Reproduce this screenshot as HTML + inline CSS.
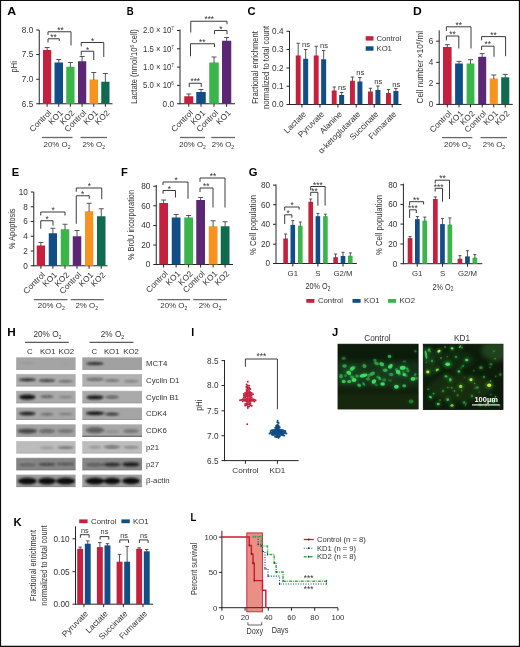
<!DOCTYPE html>
<html><head><meta charset="utf-8"><title>Figure</title>
<style>
html,body{margin:0;padding:0;background:#fff;}
body{width:520px;height:647px;overflow:hidden;}
svg{display:block;font-family:"Liberation Sans",sans-serif;}
</style></head><body>
<svg width="520" height="647" viewBox="0 0 520 647">
<defs>
<filter id="b1" x="-20%" y="-50%" width="140%" height="200%"><feGaussianBlur stdDeviation="1.0"/></filter>
<filter id="b2" x="-20%" y="-50%" width="140%" height="200%"><feGaussianBlur stdDeviation="1.4"/></filter>
<filter id="b3" x="-50%" y="-50%" width="200%" height="200%"><feGaussianBlur stdDeviation="0.7"/></filter>
<filter id="b4" x="-50%" y="-50%" width="200%" height="200%"><feGaussianBlur stdDeviation="2.5"/></filter>
<filter id="b5" x="-50%" y="-50%" width="200%" height="200%"><feGaussianBlur stdDeviation="5"/></filter>
</defs>
<rect x="0" y="0" width="520" height="647" fill="#ffffff"/>

<text transform="translate(7.30,15.20) scale(1.1,1)" font-size="11.2" text-anchor="start" fill="#000" font-weight="bold" >A</text>
<line x1="39.25" y1="30.00" x2="39.25" y2="104.25" stroke="#262626" stroke-width="1.0" />
<line x1="36.25" y1="30.00" x2="39.25" y2="30.00" stroke="#262626" stroke-width="1.0" />
<text transform="translate(33.25,32.95) " font-size="8.2" text-anchor="end" fill="#333333" font-weight="normal" >8.0</text>
<line x1="36.25" y1="54.50" x2="39.25" y2="54.50" stroke="#262626" stroke-width="1.0" />
<text transform="translate(33.25,57.45) " font-size="8.2" text-anchor="end" fill="#333333" font-weight="normal" >7.5</text>
<line x1="36.25" y1="79.25" x2="39.25" y2="79.25" stroke="#262626" stroke-width="1.0" />
<text transform="translate(33.25,82.20) " font-size="8.2" text-anchor="end" fill="#333333" font-weight="normal" >7.0</text>
<line x1="36.25" y1="103.75" x2="39.25" y2="103.75" stroke="#262626" stroke-width="1.0" />
<text transform="translate(33.25,106.70) " font-size="8.2" text-anchor="end" fill="#333333" font-weight="normal" >6.5</text>
<line x1="38.85" y1="103.75" x2="112.50" y2="103.75" stroke="#262626" stroke-width="1.0" />
<rect x="43.00" y="50.00" width="8.25" height="53.75" fill="#c5203e" />
<line x1="47.12" y1="50.50" x2="47.12" y2="47.50" stroke="#444444" stroke-width="0.9" />
<line x1="44.62" y1="47.50" x2="49.62" y2="47.50" stroke="#444444" stroke-width="0.9" />
<line x1="47.12" y1="103.75" x2="47.12" y2="106.75" stroke="#262626" stroke-width="1.0" />
<text transform="translate(51.83,113.35) rotate(-45) scale(1.02,1)" font-size="8.2" text-anchor="end" fill="#333333" font-weight="normal" >Control</text>
<rect x="54.50" y="62.50" width="8.50" height="41.25" fill="#114d86" />
<line x1="58.75" y1="63.00" x2="58.75" y2="59.50" stroke="#444444" stroke-width="0.9" />
<line x1="56.25" y1="59.50" x2="61.25" y2="59.50" stroke="#444444" stroke-width="0.9" />
<line x1="58.75" y1="103.75" x2="58.75" y2="106.75" stroke="#262626" stroke-width="1.0" />
<text transform="translate(63.45,113.35) rotate(-45) scale(1.02,1)" font-size="8.2" text-anchor="end" fill="#333333" font-weight="normal" >KO1</text>
<rect x="66.25" y="66.75" width="8.25" height="37.00" fill="#3ab54a" />
<line x1="70.38" y1="67.25" x2="70.38" y2="62.50" stroke="#444444" stroke-width="0.9" />
<line x1="67.88" y1="62.50" x2="72.88" y2="62.50" stroke="#444444" stroke-width="0.9" />
<line x1="70.38" y1="103.75" x2="70.38" y2="106.75" stroke="#262626" stroke-width="1.0" />
<text transform="translate(75.08,113.35) rotate(-45) scale(1.02,1)" font-size="8.2" text-anchor="end" fill="#333333" font-weight="normal" >KO2</text>
<rect x="78.00" y="61.25" width="8.25" height="42.50" fill="#5b2673" />
<line x1="82.12" y1="61.75" x2="82.12" y2="56.50" stroke="#444444" stroke-width="0.9" />
<line x1="79.62" y1="56.50" x2="84.62" y2="56.50" stroke="#444444" stroke-width="0.9" />
<line x1="82.12" y1="103.75" x2="82.12" y2="106.75" stroke="#262626" stroke-width="1.0" />
<text transform="translate(86.83,113.35) rotate(-45) scale(1.02,1)" font-size="8.2" text-anchor="end" fill="#333333" font-weight="normal" >Control</text>
<rect x="89.50" y="79.50" width="8.50" height="24.25" fill="#f7931e" />
<line x1="93.75" y1="80.00" x2="93.75" y2="72.50" stroke="#444444" stroke-width="0.9" />
<line x1="91.25" y1="72.50" x2="96.25" y2="72.50" stroke="#444444" stroke-width="0.9" />
<line x1="93.75" y1="103.75" x2="93.75" y2="106.75" stroke="#262626" stroke-width="1.0" />
<text transform="translate(98.45,113.35) rotate(-45) scale(1.02,1)" font-size="8.2" text-anchor="end" fill="#333333" font-weight="normal" >KO1</text>
<rect x="101.25" y="81.75" width="8.25" height="22.00" fill="#0f6a50" />
<line x1="105.38" y1="82.25" x2="105.38" y2="73.50" stroke="#444444" stroke-width="0.9" />
<line x1="102.88" y1="73.50" x2="107.88" y2="73.50" stroke="#444444" stroke-width="0.9" />
<line x1="105.38" y1="103.75" x2="105.38" y2="106.75" stroke="#262626" stroke-width="1.0" />
<text transform="translate(110.08,113.35) rotate(-45) scale(1.02,1)" font-size="8.2" text-anchor="end" fill="#333333" font-weight="normal" >KO2</text>
<text transform="translate(16.90,66.80) rotate(-90) scale(0.85,1)" font-size="8.8" text-anchor="middle" fill="#333333" font-weight="normal" >pHi</text>
<path d="M48.00,42.50 V38.75 H59.25 V41.00" stroke="#262626" stroke-width="0.9" fill="none" />
<text transform="translate(53.60,40.00) " font-size="8.3" text-anchor="middle" fill="#333333" font-weight="normal" >**</text>
<path d="M48.00,35.00 V31.75 H71.00 V45.50" stroke="#262626" stroke-width="0.9" fill="none" />
<text transform="translate(60.50,33.00) " font-size="8.3" text-anchor="middle" fill="#333333" font-weight="normal" >**</text>
<path d="M81.25,55.50 V51.25 H93.75 V60.00" stroke="#262626" stroke-width="0.9" fill="none" />
<text transform="translate(87.50,52.50) " font-size="8.3" text-anchor="middle" fill="#333333" font-weight="normal" >*</text>
<path d="M81.25,46.25 V42.50 H103.75 V57.00" stroke="#262626" stroke-width="0.9" fill="none" />
<text transform="translate(92.50,43.70) " font-size="8.3" text-anchor="middle" fill="#333333" font-weight="normal" >*</text>
<line x1="42.00" y1="137.50" x2="72.50" y2="137.50" stroke="#686868" stroke-width="1.3" />
<line x1="80.50" y1="137.50" x2="107.00" y2="137.50" stroke="#686868" stroke-width="1.3" />
<text transform="translate(57.00,147.00) " font-size="7.9" text-anchor="middle" fill="#333333" font-weight="normal" >20% O<tspan font-size="5.14" dy="1.5">2</tspan></text>
<text transform="translate(93.75,147.00) " font-size="7.9" text-anchor="middle" fill="#333333" font-weight="normal" >2% O<tspan font-size="5.14" dy="1.5">2</tspan></text>
<text transform="translate(126.80,15.20) scale(0.85,1)" font-size="11.2" text-anchor="start" fill="#000" font-weight="bold" >B</text>
<line x1="180.00" y1="29.50" x2="180.00" y2="104.15" stroke="#262626" stroke-width="1.0" />
<line x1="177.00" y1="30.50" x2="180.00" y2="30.50" stroke="#262626" stroke-width="1.0" />
<text transform="translate(174.00,33.40) scale(0.95,1)" font-size="8.2" text-anchor="end" fill="#333333" font-weight="normal" >2.0 × 10<tspan font-size="5" dy="-3">7</tspan></text>
<line x1="177.00" y1="48.80" x2="180.00" y2="48.80" stroke="#262626" stroke-width="1.0" />
<text transform="translate(174.00,51.70) scale(0.95,1)" font-size="8.2" text-anchor="end" fill="#333333" font-weight="normal" >1.5 × 10<tspan font-size="5" dy="-3">7</tspan></text>
<line x1="177.00" y1="67.10" x2="180.00" y2="67.10" stroke="#262626" stroke-width="1.0" />
<text transform="translate(174.00,70.00) scale(0.95,1)" font-size="8.2" text-anchor="end" fill="#333333" font-weight="normal" >1.0 × 10<tspan font-size="5" dy="-3">7</tspan></text>
<line x1="177.00" y1="85.40" x2="180.00" y2="85.40" stroke="#262626" stroke-width="1.0" />
<text transform="translate(174.00,88.30) scale(0.95,1)" font-size="8.2" text-anchor="end" fill="#333333" font-weight="normal" >5.0 × 10<tspan font-size="5" dy="-3">6</tspan></text>
<line x1="177.00" y1="103.75" x2="180.00" y2="103.75" stroke="#262626" stroke-width="1.0" />
<text transform="translate(174.00,106.65) " font-size="8.2" text-anchor="end" fill="#333333" font-weight="normal" >0.0</text>
<line x1="179.60" y1="103.75" x2="235.00" y2="103.75" stroke="#262626" stroke-width="1.0" />
<rect x="184.25" y="96.25" width="9.00" height="7.50" fill="#c5203e" />
<line x1="188.75" y1="96.75" x2="188.75" y2="94.00" stroke="#444444" stroke-width="0.9" />
<line x1="186.25" y1="94.00" x2="191.25" y2="94.00" stroke="#444444" stroke-width="0.9" />
<line x1="188.75" y1="103.75" x2="188.75" y2="106.75" stroke="#262626" stroke-width="1.0" />
<text transform="translate(193.45,113.35) rotate(-45) scale(1.02,1)" font-size="8.2" text-anchor="end" fill="#333333" font-weight="normal" >Control</text>
<rect x="196.25" y="92.00" width="9.50" height="11.75" fill="#114d86" />
<line x1="201.00" y1="92.50" x2="201.00" y2="89.50" stroke="#444444" stroke-width="0.9" />
<line x1="198.50" y1="89.50" x2="203.50" y2="89.50" stroke="#444444" stroke-width="0.9" />
<line x1="201.00" y1="103.75" x2="201.00" y2="106.75" stroke="#262626" stroke-width="1.0" />
<text transform="translate(205.70,113.35) rotate(-45) scale(1.02,1)" font-size="8.2" text-anchor="end" fill="#333333" font-weight="normal" >KO1</text>
<rect x="209.25" y="62.50" width="9.50" height="41.25" fill="#3ab54a" />
<line x1="214.00" y1="63.00" x2="214.00" y2="57.00" stroke="#444444" stroke-width="0.9" />
<line x1="211.50" y1="57.00" x2="216.50" y2="57.00" stroke="#444444" stroke-width="0.9" />
<line x1="214.00" y1="103.75" x2="214.00" y2="106.75" stroke="#262626" stroke-width="1.0" />
<text transform="translate(218.70,113.35) rotate(-45) scale(1.02,1)" font-size="8.2" text-anchor="end" fill="#333333" font-weight="normal" >Control</text>
<rect x="222.00" y="40.75" width="9.25" height="63.00" fill="#5b2673" />
<line x1="226.62" y1="41.25" x2="226.62" y2="37.50" stroke="#444444" stroke-width="0.9" />
<line x1="224.12" y1="37.50" x2="229.12" y2="37.50" stroke="#444444" stroke-width="0.9" />
<line x1="226.62" y1="103.75" x2="226.62" y2="106.75" stroke="#262626" stroke-width="1.0" />
<text transform="translate(231.32,113.35) rotate(-45) scale(1.02,1)" font-size="8.2" text-anchor="end" fill="#333333" font-weight="normal" >KO1</text>
<text transform="translate(136.50,66.50) rotate(-90) scale(0.84,1)" font-size="9" text-anchor="middle" fill="#333333" font-weight="normal" >Lactate (nmol/10<tspan font-size="5.2" dy="-3">6</tspan><tspan dy="3"> cell)</tspan></text>
<path d="M189.25,87.00 V83.25 H201.25 V87.00" stroke="#262626" stroke-width="0.9" fill="none" />
<text transform="translate(195.25,84.00) " font-size="8.3" text-anchor="middle" fill="#333333" font-weight="normal" >***</text>
<path d="M190.50,56.25 V43.75 H214.50 V47.00" stroke="#262626" stroke-width="0.9" fill="none" />
<text transform="translate(202.30,44.50) " font-size="8.3" text-anchor="middle" fill="#333333" font-weight="normal" >**</text>
<path d="M214.50,34.25 V30.50 H227.00 V34.25" stroke="#262626" stroke-width="0.9" fill="none" />
<text transform="translate(220.75,31.50) " font-size="8.3" text-anchor="middle" fill="#333333" font-weight="normal" >*</text>
<path d="M190.75,32.50 V21.25 H227.00 V24.25" stroke="#262626" stroke-width="0.9" fill="none" />
<text transform="translate(209.25,22.00) " font-size="8.3" text-anchor="middle" fill="#333333" font-weight="normal" >***</text>
<line x1="180.00" y1="137.50" x2="205.00" y2="137.50" stroke="#686868" stroke-width="1.3" />
<line x1="211.25" y1="137.50" x2="235.00" y2="137.50" stroke="#686868" stroke-width="1.3" />
<text transform="translate(192.50,147.00) " font-size="7.8" text-anchor="middle" fill="#333333" font-weight="normal" >20% O<tspan font-size="5.07" dy="1.5">2</tspan></text>
<text transform="translate(223.00,147.00) " font-size="7.8" text-anchor="middle" fill="#333333" font-weight="normal" >2% O<tspan font-size="5.07" dy="1.5">2</tspan></text>
<text transform="translate(247.50,15.20) scale(1.0,1)" font-size="11.2" text-anchor="start" fill="#000" font-weight="bold" >C</text>
<line x1="289.50" y1="31.00" x2="289.50" y2="105.00" stroke="#262626" stroke-width="1.0" />
<line x1="286.50" y1="31.25" x2="289.50" y2="31.25" stroke="#262626" stroke-width="1.0" />
<text transform="translate(283.50,34.20) " font-size="8.2" text-anchor="end" fill="#333333" font-weight="normal" >0.4</text>
<line x1="286.50" y1="49.50" x2="289.50" y2="49.50" stroke="#262626" stroke-width="1.0" />
<text transform="translate(283.50,52.45) " font-size="8.2" text-anchor="end" fill="#333333" font-weight="normal" >0.3</text>
<line x1="286.50" y1="68.00" x2="289.50" y2="68.00" stroke="#262626" stroke-width="1.0" />
<text transform="translate(283.50,70.95) " font-size="8.2" text-anchor="end" fill="#333333" font-weight="normal" >0.2</text>
<line x1="286.50" y1="86.25" x2="289.50" y2="86.25" stroke="#262626" stroke-width="1.0" />
<text transform="translate(283.50,89.20) " font-size="8.2" text-anchor="end" fill="#333333" font-weight="normal" >0.1</text>
<line x1="286.50" y1="104.50" x2="289.50" y2="104.50" stroke="#262626" stroke-width="1.0" />
<text transform="translate(283.50,107.45) " font-size="8.2" text-anchor="end" fill="#333333" font-weight="normal" >0.0</text>
<line x1="289.10" y1="104.50" x2="401.50" y2="104.50" stroke="#262626" stroke-width="1.0" />
<rect x="295.75" y="55.50" width="4.90" height="49.00" fill="#c5203e" />
<line x1="298.20" y1="56.00" x2="298.20" y2="43.25" stroke="#444444" stroke-width="0.9" />
<line x1="296.50" y1="43.25" x2="299.90" y2="43.25" stroke="#444444" stroke-width="0.9" />
<rect x="303.15" y="58.75" width="5.00" height="45.75" fill="#114d86" />
<line x1="305.65" y1="59.25" x2="305.65" y2="49.50" stroke="#444444" stroke-width="0.9" />
<line x1="303.95" y1="49.50" x2="307.35" y2="49.50" stroke="#444444" stroke-width="0.9" />
<line x1="301.95" y1="104.50" x2="301.95" y2="107.50" stroke="#262626" stroke-width="1.0" />
<text transform="translate(306.65,114.60) rotate(-45) scale(1.02,1)" font-size="8.2" text-anchor="end" fill="#333333" font-weight="normal" >Lactate</text>
<text transform="translate(305.95,47.00) " font-size="7.6" text-anchor="middle" fill="#333333" font-weight="normal" >ns</text>
<rect x="313.75" y="55.50" width="4.90" height="49.00" fill="#c5203e" />
<line x1="316.20" y1="56.00" x2="316.20" y2="46.25" stroke="#444444" stroke-width="0.9" />
<line x1="314.50" y1="46.25" x2="317.90" y2="46.25" stroke="#444444" stroke-width="0.9" />
<rect x="321.15" y="59.25" width="5.00" height="45.25" fill="#114d86" />
<line x1="323.65" y1="59.75" x2="323.65" y2="50.50" stroke="#444444" stroke-width="0.9" />
<line x1="321.95" y1="50.50" x2="325.35" y2="50.50" stroke="#444444" stroke-width="0.9" />
<line x1="319.95" y1="104.50" x2="319.95" y2="107.50" stroke="#262626" stroke-width="1.0" />
<text transform="translate(324.65,114.60) rotate(-45) scale(1.02,1)" font-size="8.2" text-anchor="end" fill="#333333" font-weight="normal" >Pyruvate</text>
<text transform="translate(323.95,48.00) " font-size="7.6" text-anchor="middle" fill="#333333" font-weight="normal" >ns</text>
<rect x="331.75" y="90.50" width="4.90" height="14.00" fill="#c5203e" />
<line x1="334.20" y1="91.00" x2="334.20" y2="87.00" stroke="#444444" stroke-width="0.9" />
<line x1="332.50" y1="87.00" x2="335.90" y2="87.00" stroke="#444444" stroke-width="0.9" />
<rect x="339.15" y="95.00" width="5.00" height="9.50" fill="#114d86" />
<line x1="341.65" y1="95.50" x2="341.65" y2="92.50" stroke="#444444" stroke-width="0.9" />
<line x1="339.95" y1="92.50" x2="343.35" y2="92.50" stroke="#444444" stroke-width="0.9" />
<line x1="337.95" y1="104.50" x2="337.95" y2="107.50" stroke="#262626" stroke-width="1.0" />
<text transform="translate(342.65,114.60) rotate(-45) scale(1.02,1)" font-size="8.2" text-anchor="end" fill="#333333" font-weight="normal" >Alanine</text>
<text transform="translate(341.95,90.00) " font-size="7.6" text-anchor="middle" fill="#333333" font-weight="normal" >ns</text>
<rect x="350.00" y="80.75" width="4.90" height="23.75" fill="#c5203e" />
<line x1="352.45" y1="81.25" x2="352.45" y2="77.00" stroke="#444444" stroke-width="0.9" />
<line x1="350.75" y1="77.00" x2="354.15" y2="77.00" stroke="#444444" stroke-width="0.9" />
<rect x="357.40" y="81.50" width="5.00" height="23.00" fill="#114d86" />
<line x1="359.90" y1="82.00" x2="359.90" y2="77.50" stroke="#444444" stroke-width="0.9" />
<line x1="358.20" y1="77.50" x2="361.60" y2="77.50" stroke="#444444" stroke-width="0.9" />
<line x1="356.20" y1="104.50" x2="356.20" y2="107.50" stroke="#262626" stroke-width="1.0" />
<text transform="translate(360.90,114.60) rotate(-45) scale(1.02,1)" font-size="8.2" text-anchor="end" fill="#333333" font-weight="normal" >α-ketoglutarate</text>
<text transform="translate(360.20,75.00) " font-size="7.6" text-anchor="middle" fill="#333333" font-weight="normal" >ns</text>
<rect x="368.00" y="91.50" width="4.90" height="13.00" fill="#c5203e" />
<line x1="370.45" y1="92.00" x2="370.45" y2="88.25" stroke="#444444" stroke-width="0.9" />
<line x1="368.75" y1="88.25" x2="372.15" y2="88.25" stroke="#444444" stroke-width="0.9" />
<rect x="375.40" y="90.00" width="5.00" height="14.50" fill="#114d86" />
<line x1="377.90" y1="90.50" x2="377.90" y2="86.00" stroke="#444444" stroke-width="0.9" />
<line x1="376.20" y1="86.00" x2="379.60" y2="86.00" stroke="#444444" stroke-width="0.9" />
<line x1="374.20" y1="104.50" x2="374.20" y2="107.50" stroke="#262626" stroke-width="1.0" />
<text transform="translate(378.90,114.60) rotate(-45) scale(1.02,1)" font-size="8.2" text-anchor="end" fill="#333333" font-weight="normal" >Succinate</text>
<text transform="translate(378.20,84.40) " font-size="7.6" text-anchor="middle" fill="#333333" font-weight="normal" >ns</text>
<rect x="386.00" y="93.00" width="4.90" height="11.50" fill="#c5203e" />
<line x1="388.45" y1="93.50" x2="388.45" y2="89.50" stroke="#444444" stroke-width="0.9" />
<line x1="386.75" y1="89.50" x2="390.15" y2="89.50" stroke="#444444" stroke-width="0.9" />
<rect x="393.40" y="91.00" width="5.00" height="13.50" fill="#114d86" />
<line x1="395.90" y1="91.50" x2="395.90" y2="88.50" stroke="#444444" stroke-width="0.9" />
<line x1="394.20" y1="88.50" x2="397.60" y2="88.50" stroke="#444444" stroke-width="0.9" />
<line x1="392.20" y1="104.50" x2="392.20" y2="107.50" stroke="#262626" stroke-width="1.0" />
<text transform="translate(396.90,114.60) rotate(-45) scale(1.02,1)" font-size="8.2" text-anchor="end" fill="#333333" font-weight="normal" >Fumarate</text>
<text transform="translate(396.20,86.90) " font-size="7.6" text-anchor="middle" fill="#333333" font-weight="normal" >ns</text>
<text transform="translate(257.70,67.50) rotate(-90) scale(0.82,1)" font-size="9.2" text-anchor="middle" fill="#333333" font-weight="normal" >Fractional enrichment</text>
<text transform="translate(268.80,67.50) rotate(-90) scale(0.82,1)" font-size="9.3" text-anchor="middle" fill="#333333" font-weight="normal" >normalized to total count</text>
<rect x="365.70" y="36.20" width="7.80" height="4.40" fill="#c5203e" />
<text transform="translate(376.50,40.70) " font-size="7.7" text-anchor="start" fill="#333333" font-weight="normal" >Control</text>
<rect x="365.70" y="46.30" width="7.80" height="4.40" fill="#114d86" />
<text transform="translate(376.50,51.20) " font-size="7.7" text-anchor="start" fill="#333333" font-weight="normal" >KO1</text>
<text transform="translate(413.00,15.20) scale(1.08,1)" font-size="11.2" text-anchor="start" fill="#000" font-weight="bold" >D</text>
<line x1="439.20" y1="30.30" x2="439.20" y2="104.90" stroke="#262626" stroke-width="1.0" />
<line x1="436.20" y1="41.20" x2="439.20" y2="41.20" stroke="#262626" stroke-width="1.0" />
<text transform="translate(433.20,44.15) " font-size="8.2" text-anchor="end" fill="#333333" font-weight="normal" >6</text>
<line x1="436.20" y1="62.30" x2="439.20" y2="62.30" stroke="#262626" stroke-width="1.0" />
<text transform="translate(433.20,65.25) " font-size="8.2" text-anchor="end" fill="#333333" font-weight="normal" >4</text>
<line x1="436.20" y1="83.40" x2="439.20" y2="83.40" stroke="#262626" stroke-width="1.0" />
<text transform="translate(433.20,86.35) " font-size="8.2" text-anchor="end" fill="#333333" font-weight="normal" >2</text>
<line x1="436.20" y1="104.40" x2="439.20" y2="104.40" stroke="#262626" stroke-width="1.0" />
<text transform="translate(433.20,107.35) " font-size="8.2" text-anchor="end" fill="#333333" font-weight="normal" >0</text>
<line x1="438.80" y1="104.40" x2="512.80" y2="104.40" stroke="#262626" stroke-width="1.0" />
<rect x="443.00" y="47.00" width="8.60" height="57.40" fill="#c5203e" />
<line x1="447.30" y1="47.50" x2="447.30" y2="44.70" stroke="#444444" stroke-width="0.9" />
<line x1="444.80" y1="44.70" x2="449.80" y2="44.70" stroke="#444444" stroke-width="0.9" />
<line x1="447.30" y1="104.40" x2="447.30" y2="107.40" stroke="#262626" stroke-width="1.0" />
<text transform="translate(452.00,114.00) rotate(-45) scale(1.02,1)" font-size="8.2" text-anchor="end" fill="#333333" font-weight="normal" >Control</text>
<rect x="455.10" y="63.50" width="7.80" height="40.90" fill="#114d86" />
<line x1="459.00" y1="64.00" x2="459.00" y2="61.40" stroke="#444444" stroke-width="0.9" />
<line x1="456.50" y1="61.40" x2="461.50" y2="61.40" stroke="#444444" stroke-width="0.9" />
<line x1="459.00" y1="104.40" x2="459.00" y2="107.40" stroke="#262626" stroke-width="1.0" />
<text transform="translate(463.70,114.00) rotate(-45) scale(1.02,1)" font-size="8.2" text-anchor="end" fill="#333333" font-weight="normal" >KO1</text>
<rect x="466.60" y="63.50" width="7.80" height="40.90" fill="#3ab54a" />
<line x1="470.50" y1="64.00" x2="470.50" y2="59.70" stroke="#444444" stroke-width="0.9" />
<line x1="468.00" y1="59.70" x2="473.00" y2="59.70" stroke="#444444" stroke-width="0.9" />
<line x1="470.50" y1="104.40" x2="470.50" y2="107.40" stroke="#262626" stroke-width="1.0" />
<text transform="translate(475.20,114.00) rotate(-45) scale(1.02,1)" font-size="8.2" text-anchor="end" fill="#333333" font-weight="normal" >KO2</text>
<rect x="478.20" y="56.80" width="8.00" height="47.60" fill="#5b2673" />
<line x1="482.20" y1="57.30" x2="482.20" y2="53.60" stroke="#444444" stroke-width="0.9" />
<line x1="479.70" y1="53.60" x2="484.70" y2="53.60" stroke="#444444" stroke-width="0.9" />
<line x1="482.20" y1="104.40" x2="482.20" y2="107.40" stroke="#262626" stroke-width="1.0" />
<text transform="translate(486.90,114.00) rotate(-45) scale(1.02,1)" font-size="8.2" text-anchor="end" fill="#333333" font-weight="normal" >Control</text>
<rect x="489.70" y="78.50" width="8.10" height="25.90" fill="#f7931e" />
<line x1="493.75" y1="79.00" x2="493.75" y2="75.00" stroke="#444444" stroke-width="0.9" />
<line x1="491.25" y1="75.00" x2="496.25" y2="75.00" stroke="#444444" stroke-width="0.9" />
<line x1="493.75" y1="104.40" x2="493.75" y2="107.40" stroke="#262626" stroke-width="1.0" />
<text transform="translate(498.45,114.00) rotate(-45) scale(1.02,1)" font-size="8.2" text-anchor="end" fill="#333333" font-weight="normal" >KO1</text>
<rect x="501.20" y="77.30" width="8.10" height="27.10" fill="#0f6a50" />
<line x1="505.25" y1="77.80" x2="505.25" y2="74.40" stroke="#444444" stroke-width="0.9" />
<line x1="502.75" y1="74.40" x2="507.75" y2="74.40" stroke="#444444" stroke-width="0.9" />
<line x1="505.25" y1="104.40" x2="505.25" y2="107.40" stroke="#262626" stroke-width="1.0" />
<text transform="translate(509.95,114.00) rotate(-45) scale(1.02,1)" font-size="8.2" text-anchor="end" fill="#333333" font-weight="normal" >KO2</text>
<text transform="translate(423.30,67.20) rotate(-90) scale(0.82,1)" font-size="9.8" text-anchor="middle" fill="#333333" font-weight="normal" >Cell number ×10<tspan font-size="5.6" dy="-3.2">6</tspan><tspan dy="3.2">/ml</tspan></text>
<path d="M446.40,40.40 V36.00 H458.80 V48.50" stroke="#262626" stroke-width="0.9" fill="none" />
<text transform="translate(452.60,37.20) " font-size="8.3" text-anchor="middle" fill="#333333" font-weight="normal" >**</text>
<path d="M446.40,30.90 V26.80 H471.00 V48.50" stroke="#262626" stroke-width="0.9" fill="none" />
<text transform="translate(458.70,28.00) " font-size="8.3" text-anchor="middle" fill="#333333" font-weight="normal" >**</text>
<path d="M481.60,50.00 V46.20 H494.00 V56.80" stroke="#262626" stroke-width="0.9" fill="none" />
<text transform="translate(487.80,47.40) " font-size="8.3" text-anchor="middle" fill="#333333" font-weight="normal" >**</text>
<path d="M481.60,40.40 V36.60 H505.60 V56.20" stroke="#262626" stroke-width="0.9" fill="none" />
<text transform="translate(493.60,37.80) " font-size="8.3" text-anchor="middle" fill="#333333" font-weight="normal" >**</text>
<line x1="442.00" y1="137.60" x2="472.30" y2="137.60" stroke="#686868" stroke-width="1.3" />
<line x1="480.50" y1="137.60" x2="507.00" y2="137.60" stroke="#686868" stroke-width="1.3" />
<text transform="translate(457.40,147.00) " font-size="7.8" text-anchor="middle" fill="#333333" font-weight="normal" >20% O<tspan font-size="5.07" dy="1.5">2</tspan></text>
<text transform="translate(494.00,147.00) " font-size="7.8" text-anchor="middle" fill="#333333" font-weight="normal" >2% O<tspan font-size="5.07" dy="1.5">2</tspan></text>
<text transform="translate(11.80,175.70) scale(1.0,1)" font-size="11.2" text-anchor="start" fill="#000" font-weight="bold" >E</text>
<line x1="33.75" y1="192.00" x2="33.75" y2="266.25" stroke="#262626" stroke-width="1.0" />
<line x1="30.75" y1="192.00" x2="33.75" y2="192.00" stroke="#262626" stroke-width="1.0" />
<text transform="translate(27.75,194.95) " font-size="8.2" text-anchor="end" fill="#333333" font-weight="normal" >10</text>
<line x1="30.75" y1="206.75" x2="33.75" y2="206.75" stroke="#262626" stroke-width="1.0" />
<text transform="translate(27.75,209.70) " font-size="8.2" text-anchor="end" fill="#333333" font-weight="normal" >8</text>
<line x1="30.75" y1="221.50" x2="33.75" y2="221.50" stroke="#262626" stroke-width="1.0" />
<text transform="translate(27.75,224.45) " font-size="8.2" text-anchor="end" fill="#333333" font-weight="normal" >6</text>
<line x1="30.75" y1="236.25" x2="33.75" y2="236.25" stroke="#262626" stroke-width="1.0" />
<text transform="translate(27.75,239.20) " font-size="8.2" text-anchor="end" fill="#333333" font-weight="normal" >4</text>
<line x1="30.75" y1="251.00" x2="33.75" y2="251.00" stroke="#262626" stroke-width="1.0" />
<text transform="translate(27.75,253.95) " font-size="8.2" text-anchor="end" fill="#333333" font-weight="normal" >2</text>
<line x1="30.75" y1="265.75" x2="33.75" y2="265.75" stroke="#262626" stroke-width="1.0" />
<text transform="translate(27.75,268.70) " font-size="8.2" text-anchor="end" fill="#333333" font-weight="normal" >0</text>
<line x1="33.35" y1="265.75" x2="107.50" y2="265.75" stroke="#262626" stroke-width="1.0" />
<rect x="36.75" y="245.50" width="8.25" height="20.25" fill="#c5203e" />
<line x1="40.88" y1="246.00" x2="40.88" y2="242.50" stroke="#444444" stroke-width="0.9" />
<line x1="38.38" y1="242.50" x2="43.38" y2="242.50" stroke="#444444" stroke-width="0.9" />
<line x1="40.88" y1="265.75" x2="40.88" y2="268.75" stroke="#262626" stroke-width="1.0" />
<text transform="translate(45.58,275.35) rotate(-45) scale(1.02,1)" font-size="8.2" text-anchor="end" fill="#333333" font-weight="normal" >Control</text>
<rect x="48.75" y="233.25" width="8.25" height="32.50" fill="#114d86" />
<line x1="52.88" y1="233.75" x2="52.88" y2="228.25" stroke="#444444" stroke-width="0.9" />
<line x1="50.38" y1="228.25" x2="55.38" y2="228.25" stroke="#444444" stroke-width="0.9" />
<line x1="52.88" y1="265.75" x2="52.88" y2="268.75" stroke="#262626" stroke-width="1.0" />
<text transform="translate(57.58,275.35) rotate(-45) scale(1.02,1)" font-size="8.2" text-anchor="end" fill="#333333" font-weight="normal" >KO1</text>
<rect x="60.75" y="229.25" width="8.50" height="36.50" fill="#3ab54a" />
<line x1="65.00" y1="229.75" x2="65.00" y2="224.25" stroke="#444444" stroke-width="0.9" />
<line x1="62.50" y1="224.25" x2="67.50" y2="224.25" stroke="#444444" stroke-width="0.9" />
<line x1="65.00" y1="265.75" x2="65.00" y2="268.75" stroke="#262626" stroke-width="1.0" />
<text transform="translate(69.70,275.35) rotate(-45) scale(1.02,1)" font-size="8.2" text-anchor="end" fill="#333333" font-weight="normal" >KO2</text>
<rect x="72.75" y="236.25" width="8.50" height="29.50" fill="#5b2673" />
<line x1="77.00" y1="236.75" x2="77.00" y2="230.50" stroke="#444444" stroke-width="0.9" />
<line x1="74.50" y1="230.50" x2="79.50" y2="230.50" stroke="#444444" stroke-width="0.9" />
<line x1="77.00" y1="265.75" x2="77.00" y2="268.75" stroke="#262626" stroke-width="1.0" />
<text transform="translate(81.70,275.35) rotate(-45) scale(1.02,1)" font-size="8.2" text-anchor="end" fill="#333333" font-weight="normal" >Control</text>
<rect x="85.00" y="211.25" width="8.25" height="54.50" fill="#f7931e" />
<line x1="89.12" y1="211.75" x2="89.12" y2="203.25" stroke="#444444" stroke-width="0.9" />
<line x1="86.62" y1="203.25" x2="91.62" y2="203.25" stroke="#444444" stroke-width="0.9" />
<line x1="89.12" y1="265.75" x2="89.12" y2="268.75" stroke="#262626" stroke-width="1.0" />
<text transform="translate(93.83,275.35) rotate(-45) scale(1.02,1)" font-size="8.2" text-anchor="end" fill="#333333" font-weight="normal" >KO1</text>
<rect x="97.00" y="216.25" width="8.50" height="49.50" fill="#0f6a50" />
<line x1="101.25" y1="216.75" x2="101.25" y2="208.75" stroke="#444444" stroke-width="0.9" />
<line x1="98.75" y1="208.75" x2="103.75" y2="208.75" stroke="#444444" stroke-width="0.9" />
<line x1="101.25" y1="265.75" x2="101.25" y2="268.75" stroke="#262626" stroke-width="1.0" />
<text transform="translate(105.95,275.35) rotate(-45) scale(1.02,1)" font-size="8.2" text-anchor="end" fill="#333333" font-weight="normal" >KO2</text>
<text transform="translate(14.50,228.75) rotate(-90) scale(0.82,1)" font-size="9" text-anchor="middle" fill="#333333" font-weight="normal" >% Apoptosis</text>
<path d="M40.75,228.75 V220.75 H53.00 V225.50" stroke="#262626" stroke-width="0.9" fill="none" />
<text transform="translate(47.00,222.00) " font-size="8.3" text-anchor="middle" fill="#333333" font-weight="normal" >*</text>
<path d="M40.75,215.50 V212.00 H65.00 V215.50" stroke="#262626" stroke-width="0.9" fill="none" />
<text transform="translate(53.00,213.20) " font-size="8.3" text-anchor="middle" fill="#333333" font-weight="normal" >*</text>
<path d="M76.25,223.75 V195.75 H89.25 V198.75" stroke="#262626" stroke-width="0.9" fill="none" />
<text transform="translate(82.50,197.00) " font-size="8.3" text-anchor="middle" fill="#333333" font-weight="normal" >*</text>
<path d="M76.25,191.75 V188.00 H101.75 V199.25" stroke="#262626" stroke-width="0.9" fill="none" />
<text transform="translate(89.25,189.20) " font-size="8.3" text-anchor="middle" fill="#333333" font-weight="normal" >*</text>
<line x1="33.75" y1="299.60" x2="67.50" y2="299.60" stroke="#686868" stroke-width="1.3" />
<line x1="70.75" y1="299.60" x2="103.75" y2="299.60" stroke="#686868" stroke-width="1.3" />
<text transform="translate(51.25,308.40) " font-size="7.9" text-anchor="middle" fill="#333333" font-weight="normal" >20% O<tspan font-size="5.14" dy="1.5">2</tspan></text>
<text transform="translate(86.75,308.40) " font-size="7.9" text-anchor="middle" fill="#333333" font-weight="normal" >2% O<tspan font-size="5.14" dy="1.5">2</tspan></text>
<text transform="translate(121.00,175.70) scale(1.0,1)" font-size="11.2" text-anchor="start" fill="#000" font-weight="bold" >F</text>
<line x1="156.25" y1="185.00" x2="156.25" y2="265.00" stroke="#262626" stroke-width="1.0" />
<line x1="153.25" y1="186.25" x2="156.25" y2="186.25" stroke="#262626" stroke-width="1.0" />
<text transform="translate(150.25,189.20) " font-size="8.2" text-anchor="end" fill="#333333" font-weight="normal" >80</text>
<line x1="153.25" y1="205.75" x2="156.25" y2="205.75" stroke="#262626" stroke-width="1.0" />
<text transform="translate(150.25,208.70) " font-size="8.2" text-anchor="end" fill="#333333" font-weight="normal" >60</text>
<line x1="153.25" y1="225.50" x2="156.25" y2="225.50" stroke="#262626" stroke-width="1.0" />
<text transform="translate(150.25,228.45) " font-size="8.2" text-anchor="end" fill="#333333" font-weight="normal" >40</text>
<line x1="153.25" y1="245.00" x2="156.25" y2="245.00" stroke="#262626" stroke-width="1.0" />
<text transform="translate(150.25,247.95) " font-size="8.2" text-anchor="end" fill="#333333" font-weight="normal" >20</text>
<line x1="153.25" y1="264.50" x2="156.25" y2="264.50" stroke="#262626" stroke-width="1.0" />
<text transform="translate(150.25,267.45) " font-size="8.2" text-anchor="end" fill="#333333" font-weight="normal" >0</text>
<line x1="155.85" y1="264.50" x2="233.00" y2="264.50" stroke="#262626" stroke-width="1.0" />
<rect x="159.25" y="203.00" width="8.75" height="61.50" fill="#c5203e" />
<line x1="163.62" y1="203.50" x2="163.62" y2="200.00" stroke="#444444" stroke-width="0.9" />
<line x1="161.12" y1="200.00" x2="166.12" y2="200.00" stroke="#444444" stroke-width="0.9" />
<line x1="163.62" y1="264.50" x2="163.62" y2="267.50" stroke="#262626" stroke-width="1.0" />
<text transform="translate(168.32,274.10) rotate(-45) scale(1.02,1)" font-size="8.2" text-anchor="end" fill="#333333" font-weight="normal" >Control</text>
<rect x="171.75" y="217.50" width="8.75" height="47.00" fill="#114d86" />
<line x1="176.12" y1="218.00" x2="176.12" y2="214.50" stroke="#444444" stroke-width="0.9" />
<line x1="173.62" y1="214.50" x2="178.62" y2="214.50" stroke="#444444" stroke-width="0.9" />
<line x1="176.12" y1="264.50" x2="176.12" y2="267.50" stroke="#262626" stroke-width="1.0" />
<text transform="translate(180.82,274.10) rotate(-45) scale(1.02,1)" font-size="8.2" text-anchor="end" fill="#333333" font-weight="normal" >KO1</text>
<rect x="184.25" y="217.50" width="8.75" height="47.00" fill="#3ab54a" />
<line x1="188.62" y1="218.00" x2="188.62" y2="215.50" stroke="#444444" stroke-width="0.9" />
<line x1="186.12" y1="215.50" x2="191.12" y2="215.50" stroke="#444444" stroke-width="0.9" />
<line x1="188.62" y1="264.50" x2="188.62" y2="267.50" stroke="#262626" stroke-width="1.0" />
<text transform="translate(193.32,274.10) rotate(-45) scale(1.02,1)" font-size="8.2" text-anchor="end" fill="#333333" font-weight="normal" >KO2</text>
<rect x="196.25" y="200.00" width="8.75" height="64.50" fill="#5b2673" />
<line x1="200.62" y1="200.50" x2="200.62" y2="197.50" stroke="#444444" stroke-width="0.9" />
<line x1="198.12" y1="197.50" x2="203.12" y2="197.50" stroke="#444444" stroke-width="0.9" />
<line x1="200.62" y1="264.50" x2="200.62" y2="267.50" stroke="#262626" stroke-width="1.0" />
<text transform="translate(205.32,274.10) rotate(-45) scale(1.02,1)" font-size="8.2" text-anchor="end" fill="#333333" font-weight="normal" >Control</text>
<rect x="208.75" y="226.25" width="8.75" height="38.25" fill="#f7931e" />
<line x1="213.12" y1="226.75" x2="213.12" y2="220.75" stroke="#444444" stroke-width="0.9" />
<line x1="210.62" y1="220.75" x2="215.62" y2="220.75" stroke="#444444" stroke-width="0.9" />
<line x1="213.12" y1="264.50" x2="213.12" y2="267.50" stroke="#262626" stroke-width="1.0" />
<text transform="translate(217.82,274.10) rotate(-45) scale(1.02,1)" font-size="8.2" text-anchor="end" fill="#333333" font-weight="normal" >KO1</text>
<rect x="220.75" y="226.25" width="8.75" height="38.25" fill="#0f6a50" />
<line x1="225.12" y1="226.75" x2="225.12" y2="221.75" stroke="#444444" stroke-width="0.9" />
<line x1="222.62" y1="221.75" x2="227.62" y2="221.75" stroke="#444444" stroke-width="0.9" />
<line x1="225.12" y1="264.50" x2="225.12" y2="267.50" stroke="#262626" stroke-width="1.0" />
<text transform="translate(229.82,274.10) rotate(-45) scale(1.02,1)" font-size="8.2" text-anchor="end" fill="#333333" font-weight="normal" >KO2</text>
<text transform="translate(134.00,225.00) rotate(-90) scale(0.82,1)" font-size="9" text-anchor="middle" fill="#333333" font-weight="normal" >% BrdU incorporation</text>
<path d="M163.00,193.75 V190.50 H175.50 V197.50" stroke="#262626" stroke-width="0.9" fill="none" />
<text transform="translate(169.25,191.70) " font-size="8.3" text-anchor="middle" fill="#333333" font-weight="normal" >*</text>
<path d="M163.00,185.00 V182.00 H188.00 V198.75" stroke="#262626" stroke-width="0.9" fill="none" />
<text transform="translate(176.00,183.20) " font-size="8.3" text-anchor="middle" fill="#333333" font-weight="normal" >*</text>
<path d="M200.00,192.00 V188.00 H213.00 V207.50" stroke="#262626" stroke-width="0.9" fill="none" />
<text transform="translate(206.25,189.20) " font-size="8.3" text-anchor="middle" fill="#333333" font-weight="normal" >**</text>
<path d="M200.00,181.75 V178.00 H225.00 V207.50" stroke="#262626" stroke-width="0.9" fill="none" />
<text transform="translate(213.00,179.20) " font-size="8.3" text-anchor="middle" fill="#333333" font-weight="normal" >**</text>
<line x1="157.50" y1="299.60" x2="190.00" y2="299.60" stroke="#686868" stroke-width="1.3" />
<line x1="193.25" y1="299.60" x2="227.00" y2="299.60" stroke="#686868" stroke-width="1.3" />
<text transform="translate(173.75,308.40) " font-size="7.9" text-anchor="middle" fill="#333333" font-weight="normal" >20% O<tspan font-size="5.14" dy="1.5">2</tspan></text>
<text transform="translate(210.00,308.40) " font-size="7.9" text-anchor="middle" fill="#333333" font-weight="normal" >2% O<tspan font-size="5.14" dy="1.5">2</tspan></text>
<text transform="translate(248.80,176.00) scale(1.0,1)" font-size="11.2" text-anchor="start" fill="#000" font-weight="bold" >G</text>
<line x1="276.00" y1="184.50" x2="276.00" y2="264.00" stroke="#262626" stroke-width="1.0" />
<line x1="273.00" y1="185.10" x2="276.00" y2="185.10" stroke="#262626" stroke-width="1.0" />
<text transform="translate(270.00,188.05) " font-size="8.2" text-anchor="end" fill="#333333" font-weight="normal" >80</text>
<line x1="273.00" y1="204.70" x2="276.00" y2="204.70" stroke="#262626" stroke-width="1.0" />
<text transform="translate(270.00,207.65) " font-size="8.2" text-anchor="end" fill="#333333" font-weight="normal" >60</text>
<line x1="273.00" y1="224.30" x2="276.00" y2="224.30" stroke="#262626" stroke-width="1.0" />
<text transform="translate(270.00,227.25) " font-size="8.2" text-anchor="end" fill="#333333" font-weight="normal" >40</text>
<line x1="273.00" y1="244.20" x2="276.00" y2="244.20" stroke="#262626" stroke-width="1.0" />
<text transform="translate(270.00,247.15) " font-size="8.2" text-anchor="end" fill="#333333" font-weight="normal" >20</text>
<line x1="273.00" y1="263.50" x2="276.00" y2="263.50" stroke="#262626" stroke-width="1.0" />
<text transform="translate(270.00,266.45) " font-size="8.2" text-anchor="end" fill="#333333" font-weight="normal" >0</text>
<line x1="275.60" y1="263.50" x2="356.80" y2="263.50" stroke="#262626" stroke-width="1.0" />
<rect x="283.30" y="238.50" width="4.60" height="25.00" fill="#c5203e" />
<line x1="285.60" y1="239.00" x2="285.60" y2="234.00" stroke="#444444" stroke-width="0.9" />
<line x1="284.10" y1="234.00" x2="287.10" y2="234.00" stroke="#444444" stroke-width="0.9" />
<rect x="290.50" y="224.90" width="4.60" height="38.60" fill="#114d86" />
<line x1="292.80" y1="225.40" x2="292.80" y2="220.60" stroke="#444444" stroke-width="0.9" />
<line x1="291.30" y1="220.60" x2="294.30" y2="220.60" stroke="#444444" stroke-width="0.9" />
<rect x="298.00" y="225.80" width="4.60" height="37.70" fill="#3ab54a" />
<line x1="300.30" y1="226.30" x2="300.30" y2="222.00" stroke="#444444" stroke-width="0.9" />
<line x1="298.80" y1="222.00" x2="301.80" y2="222.00" stroke="#444444" stroke-width="0.9" />
<rect x="308.40" y="201.80" width="4.60" height="61.70" fill="#c5203e" />
<line x1="310.70" y1="202.30" x2="310.70" y2="199.00" stroke="#444444" stroke-width="0.9" />
<line x1="309.20" y1="199.00" x2="312.20" y2="199.00" stroke="#444444" stroke-width="0.9" />
<rect x="315.60" y="216.20" width="4.60" height="47.30" fill="#114d86" />
<line x1="317.90" y1="216.70" x2="317.90" y2="213.40" stroke="#444444" stroke-width="0.9" />
<line x1="316.40" y1="213.40" x2="319.40" y2="213.40" stroke="#444444" stroke-width="0.9" />
<rect x="323.10" y="216.20" width="4.60" height="47.30" fill="#3ab54a" />
<line x1="325.40" y1="216.70" x2="325.40" y2="214.20" stroke="#444444" stroke-width="0.9" />
<line x1="323.90" y1="214.20" x2="326.90" y2="214.20" stroke="#444444" stroke-width="0.9" />
<rect x="333.30" y="257.20" width="4.60" height="6.30" fill="#c5203e" />
<line x1="335.60" y1="257.70" x2="335.60" y2="254.00" stroke="#444444" stroke-width="0.9" />
<line x1="334.10" y1="254.00" x2="337.10" y2="254.00" stroke="#444444" stroke-width="0.9" />
<rect x="340.70" y="256.00" width="4.60" height="7.50" fill="#114d86" />
<line x1="343.00" y1="256.50" x2="343.00" y2="252.30" stroke="#444444" stroke-width="0.9" />
<line x1="341.50" y1="252.30" x2="344.50" y2="252.30" stroke="#444444" stroke-width="0.9" />
<rect x="348.00" y="255.80" width="4.60" height="7.70" fill="#3ab54a" />
<line x1="350.30" y1="256.30" x2="350.30" y2="252.90" stroke="#444444" stroke-width="0.9" />
<line x1="348.80" y1="252.90" x2="351.80" y2="252.90" stroke="#444444" stroke-width="0.9" />
<line x1="292.80" y1="263.50" x2="292.80" y2="266.50" stroke="#262626" stroke-width="1.0" />
<text transform="translate(292.80,276.00) " font-size="7.8" text-anchor="middle" fill="#333333" font-weight="normal" >G1</text>
<line x1="317.90" y1="263.50" x2="317.90" y2="266.50" stroke="#262626" stroke-width="1.0" />
<text transform="translate(317.90,276.00) " font-size="7.8" text-anchor="middle" fill="#333333" font-weight="normal" >S</text>
<line x1="343.00" y1="263.50" x2="343.00" y2="266.50" stroke="#262626" stroke-width="1.0" />
<text transform="translate(343.00,276.00) " font-size="7.8" text-anchor="middle" fill="#333333" font-weight="normal" >G2/M</text>
<text transform="translate(318.00,289.30) scale(0.76,1)" font-size="9.6" text-anchor="middle" fill="#333333" font-weight="normal" >20% O<tspan font-size="6.4" dy="1.8">2</tspan></text>
<text transform="translate(256.20,225.00) rotate(-90) scale(0.82,1)" font-size="9.4" text-anchor="middle" fill="#333333" font-weight="normal" >% Cell population</text>
<path d="M284.70,224.00 V214.80 H291.90 V217.70" stroke="#262626" stroke-width="0.9" fill="none" />
<text transform="translate(288.20,216.00) " font-size="8.3" text-anchor="middle" fill="#333333" font-weight="normal" >*</text>
<path d="M284.70,210.50 V207.00 H299.10 V209.60" stroke="#262626" stroke-width="0.9" fill="none" />
<text transform="translate(292.00,208.20) " font-size="8.3" text-anchor="middle" fill="#333333" font-weight="normal" >*</text>
<path d="M310.70,196.00 V192.30 H317.90 V205.60" stroke="#262626" stroke-width="0.9" fill="none" />
<text transform="translate(314.40,193.50) " font-size="8.3" text-anchor="middle" fill="#333333" font-weight="normal" >**</text>
<path d="M310.70,190.30 V186.50 H325.10 V205.60" stroke="#262626" stroke-width="0.9" fill="none" />
<text transform="translate(317.90,187.70) " font-size="8.3" text-anchor="middle" fill="#333333" font-weight="normal" >***</text>
<rect x="306.30" y="299.00" width="8.10" height="3.80" fill="#c5203e" />
<text transform="translate(317.90,303.40) " font-size="7.8" text-anchor="start" fill="#333333" font-weight="normal" >Control</text>
<rect x="352.50" y="299.00" width="8.10" height="3.80" fill="#114d86" />
<text transform="translate(364.00,303.40) " font-size="7.8" text-anchor="start" fill="#333333" font-weight="normal" >KO1</text>
<rect x="388.00" y="299.00" width="8.10" height="3.80" fill="#3ab54a" />
<text transform="translate(399.40,303.40) " font-size="7.8" text-anchor="start" fill="#333333" font-weight="normal" >KO2</text>
<line x1="403.40" y1="183.70" x2="403.40" y2="264.20" stroke="#262626" stroke-width="1.0" />
<line x1="400.40" y1="184.80" x2="403.40" y2="184.80" stroke="#262626" stroke-width="1.0" />
<text transform="translate(397.40,187.75) " font-size="8.2" text-anchor="end" fill="#333333" font-weight="normal" >80</text>
<line x1="400.40" y1="204.40" x2="403.40" y2="204.40" stroke="#262626" stroke-width="1.0" />
<text transform="translate(397.40,207.35) " font-size="8.2" text-anchor="end" fill="#333333" font-weight="normal" >60</text>
<line x1="400.40" y1="224.10" x2="403.40" y2="224.10" stroke="#262626" stroke-width="1.0" />
<text transform="translate(397.40,227.05) " font-size="8.2" text-anchor="end" fill="#333333" font-weight="normal" >40</text>
<line x1="400.40" y1="244.00" x2="403.40" y2="244.00" stroke="#262626" stroke-width="1.0" />
<text transform="translate(397.40,246.95) " font-size="8.2" text-anchor="end" fill="#333333" font-weight="normal" >20</text>
<line x1="400.40" y1="263.70" x2="403.40" y2="263.70" stroke="#262626" stroke-width="1.0" />
<text transform="translate(397.40,266.65) " font-size="8.2" text-anchor="end" fill="#333333" font-weight="normal" >0</text>
<line x1="403.00" y1="263.70" x2="482.30" y2="263.70" stroke="#262626" stroke-width="1.0" />
<rect x="407.70" y="238.10" width="4.70" height="25.60" fill="#c5203e" />
<line x1="410.05" y1="238.60" x2="410.05" y2="236.50" stroke="#444444" stroke-width="0.9" />
<line x1="408.55" y1="236.50" x2="411.55" y2="236.50" stroke="#444444" stroke-width="0.9" />
<rect x="415.00" y="219.20" width="4.70" height="44.50" fill="#114d86" />
<line x1="417.35" y1="219.70" x2="417.35" y2="216.50" stroke="#444444" stroke-width="0.9" />
<line x1="415.85" y1="216.50" x2="418.85" y2="216.50" stroke="#444444" stroke-width="0.9" />
<rect x="422.40" y="220.60" width="4.70" height="43.10" fill="#3ab54a" />
<line x1="424.75" y1="221.10" x2="424.75" y2="217.10" stroke="#444444" stroke-width="0.9" />
<line x1="423.25" y1="217.10" x2="426.25" y2="217.10" stroke="#444444" stroke-width="0.9" />
<rect x="433.00" y="199.00" width="4.70" height="64.70" fill="#c5203e" />
<line x1="435.35" y1="199.50" x2="435.35" y2="196.90" stroke="#444444" stroke-width="0.9" />
<line x1="433.85" y1="196.90" x2="436.85" y2="196.90" stroke="#444444" stroke-width="0.9" />
<rect x="440.10" y="224.10" width="4.70" height="39.60" fill="#114d86" />
<line x1="442.45" y1="224.60" x2="442.45" y2="218.40" stroke="#444444" stroke-width="0.9" />
<line x1="440.95" y1="218.40" x2="443.95" y2="218.40" stroke="#444444" stroke-width="0.9" />
<rect x="447.50" y="224.60" width="4.70" height="39.10" fill="#3ab54a" />
<line x1="449.85" y1="225.10" x2="449.85" y2="217.90" stroke="#444444" stroke-width="0.9" />
<line x1="448.35" y1="217.90" x2="451.35" y2="217.90" stroke="#444444" stroke-width="0.9" />
<rect x="457.60" y="258.80" width="4.70" height="4.90" fill="#c5203e" />
<line x1="459.95" y1="259.30" x2="459.95" y2="255.60" stroke="#444444" stroke-width="0.9" />
<line x1="458.45" y1="255.60" x2="461.45" y2="255.60" stroke="#444444" stroke-width="0.9" />
<rect x="465.10" y="256.40" width="4.70" height="7.30" fill="#114d86" />
<line x1="467.45" y1="256.90" x2="467.45" y2="250.70" stroke="#444444" stroke-width="0.9" />
<line x1="465.95" y1="250.70" x2="468.95" y2="250.70" stroke="#444444" stroke-width="0.9" />
<rect x="472.50" y="257.70" width="4.70" height="6.00" fill="#3ab54a" />
<line x1="474.85" y1="258.20" x2="474.85" y2="254.50" stroke="#444444" stroke-width="0.9" />
<line x1="473.35" y1="254.50" x2="476.35" y2="254.50" stroke="#444444" stroke-width="0.9" />
<line x1="417.20" y1="263.70" x2="417.20" y2="266.70" stroke="#262626" stroke-width="1.0" />
<text transform="translate(417.20,276.20) " font-size="7.8" text-anchor="middle" fill="#333333" font-weight="normal" >G1</text>
<line x1="442.50" y1="263.70" x2="442.50" y2="266.70" stroke="#262626" stroke-width="1.0" />
<text transform="translate(442.50,276.20) " font-size="7.8" text-anchor="middle" fill="#333333" font-weight="normal" >S</text>
<line x1="467.50" y1="263.70" x2="467.50" y2="266.70" stroke="#262626" stroke-width="1.0" />
<text transform="translate(467.50,276.20) " font-size="7.8" text-anchor="middle" fill="#333333" font-weight="normal" >G2/M</text>
<text transform="translate(443.00,289.50) scale(0.76,1)" font-size="9.6" text-anchor="middle" fill="#333333" font-weight="normal" >2% O<tspan font-size="6.4" dy="1.8">2</tspan></text>
<text transform="translate(381.80,225.00) rotate(-90) scale(0.82,1)" font-size="9.4" text-anchor="middle" fill="#333333" font-weight="normal" >% Cell population</text>
<path d="M409.60,217.90 V209.80 H416.30 V213.00" stroke="#262626" stroke-width="0.9" fill="none" />
<text transform="translate(412.80,211.00) " font-size="8.3" text-anchor="middle" fill="#333333" font-weight="normal" >***</text>
<path d="M409.60,205.00 V201.70 H423.60 V204.40" stroke="#262626" stroke-width="0.9" fill="none" />
<text transform="translate(416.30,202.90) " font-size="8.3" text-anchor="middle" fill="#333333" font-weight="normal" >**</text>
<path d="M435.20,191.50 V188.30 H442.50 V201.70" stroke="#262626" stroke-width="0.9" fill="none" />
<text transform="translate(438.70,189.50) " font-size="8.3" text-anchor="middle" fill="#333333" font-weight="normal" >***</text>
<path d="M435.20,183.40 V180.20 H449.50 V199.00" stroke="#262626" stroke-width="0.9" fill="none" />
<text transform="translate(442.50,181.40) " font-size="8.3" text-anchor="middle" fill="#333333" font-weight="normal" >**</text>
<text transform="translate(7.20,335.80) scale(1.05,1)" font-size="11.2" text-anchor="start" fill="#000" font-weight="bold" >H</text>
<text transform="translate(47.50,337.20) " font-size="8.2" text-anchor="middle" fill="#333333" font-weight="normal" >20% O<tspan font-size="5.33" dy="1.5">2</tspan></text>
<text transform="translate(112.50,337.20) " font-size="8.2" text-anchor="middle" fill="#333333" font-weight="normal" >2% O<tspan font-size="5.33" dy="1.5">2</tspan></text>
<line x1="25.00" y1="342.30" x2="68.80" y2="342.30" stroke="#5a5a5a" stroke-width="1.3" />
<line x1="89.60" y1="342.30" x2="133.50" y2="342.30" stroke="#5a5a5a" stroke-width="1.3" />
<text transform="translate(29.80,353.80) " font-size="7.8" text-anchor="middle" fill="#333333" font-weight="normal" >C</text>
<text transform="translate(47.70,353.80) " font-size="7.8" text-anchor="middle" fill="#333333" font-weight="normal" >KO1</text>
<text transform="translate(66.30,353.80) " font-size="7.8" text-anchor="middle" fill="#333333" font-weight="normal" >KO2</text>
<text transform="translate(94.40,353.80) " font-size="7.8" text-anchor="middle" fill="#333333" font-weight="normal" >C</text>
<text transform="translate(111.70,353.80) " font-size="7.8" text-anchor="middle" fill="#333333" font-weight="normal" >KO1</text>
<text transform="translate(131.00,353.80) " font-size="7.8" text-anchor="middle" fill="#333333" font-weight="normal" >KO2</text>
<clipPath id="cl"><rect x="16.2" y="350" width="59.4" height="140"/></clipPath>
<clipPath id="cr"><rect x="82.3" y="350" width="59.7" height="140"/></clipPath>
<rect x="16.20" y="357.30" width="59.40" height="12.50" fill="#a4a4a4" />
<rect x="82.30" y="357.30" width="59.70" height="12.50" fill="#a1a1a1" />
<rect x="16.20" y="357.30" width="59.40" height="0.80" fill="#ffffff" opacity="0.15"/>
<rect x="82.30" y="357.30" width="59.70" height="0.80" fill="#ffffff" opacity="0.15"/>
<rect x="16.20" y="369.00" width="59.40" height="0.80" fill="#000" opacity="0.12"/>
<rect x="82.30" y="369.00" width="59.70" height="0.80" fill="#000" opacity="0.12"/>
<g clip-path="url(#cl)"><g filter="url(#b1)">
<ellipse cx="27.3" cy="363.05" rx="6.8" ry="0.8" fill="#111" opacity="0.12"/>
<ellipse cx="65.6" cy="364.05" rx="1.8" ry="0.6" fill="#111" opacity="0.15"/>
</g></g>
<g clip-path="url(#cr)"><g filter="url(#b1)">
<ellipse cx="95" cy="363.55" rx="8.8" ry="1.3" fill="#111" opacity="0.95"/>
</g></g>
<text transform="translate(146.00,366.10) " font-size="7.8" text-anchor="start" fill="#333333" font-weight="normal" >MCT4</text>
<rect x="16.20" y="374.00" width="59.40" height="12.50" fill="#adadad" />
<rect x="82.30" y="374.00" width="59.70" height="12.50" fill="#b1b1b1" />
<rect x="16.20" y="374.00" width="59.40" height="0.80" fill="#ffffff" opacity="0.15"/>
<rect x="82.30" y="374.00" width="59.70" height="0.80" fill="#ffffff" opacity="0.15"/>
<rect x="16.20" y="385.70" width="59.40" height="0.80" fill="#000" opacity="0.12"/>
<rect x="82.30" y="385.70" width="59.70" height="0.80" fill="#000" opacity="0.12"/>
<g clip-path="url(#cl)"><g filter="url(#b1)">
<ellipse cx="27.3" cy="379.75" rx="8.8" ry="1.5" fill="#111" opacity="0.85"/>
<ellipse cx="47" cy="380.55" rx="8.3" ry="1.4" fill="#111" opacity="0.75"/>
<ellipse cx="65.6" cy="381.25" rx="7.8" ry="1.2" fill="#111" opacity="0.4"/>
</g></g>
<g clip-path="url(#cr)"><g filter="url(#b1)">
<ellipse cx="95" cy="379.45" rx="8.8" ry="1.6" fill="#111" opacity="0.45"/>
<ellipse cx="112" cy="380.55" rx="7.8" ry="1.5" fill="#111" opacity="0.35"/>
<ellipse cx="131" cy="381.25" rx="7.8" ry="1.4" fill="#111" opacity="0.25"/>
</g></g>
<text transform="translate(146.00,382.80) " font-size="7.8" text-anchor="start" fill="#333333" font-weight="normal" >Cyclin D1</text>
<rect x="16.20" y="390.80" width="59.40" height="12.50" fill="#a9a9a9" />
<rect x="82.30" y="390.80" width="59.70" height="12.50" fill="#aaaaaa" />
<rect x="16.20" y="390.80" width="59.40" height="0.80" fill="#ffffff" opacity="0.15"/>
<rect x="82.30" y="390.80" width="59.70" height="0.80" fill="#ffffff" opacity="0.15"/>
<rect x="16.20" y="402.50" width="59.40" height="0.80" fill="#000" opacity="0.12"/>
<rect x="82.30" y="402.50" width="59.70" height="0.80" fill="#000" opacity="0.12"/>
<g clip-path="url(#cl)"><g filter="url(#b1)">
<ellipse cx="27.3" cy="397.05" rx="8.3" ry="2.6" fill="#111" opacity="0.95"/>
<ellipse cx="47" cy="396.55" rx="6.8" ry="1.3" fill="#111" opacity="0.5"/>
<ellipse cx="65.6" cy="397.05" rx="6.8" ry="1.0" fill="#111" opacity="0.28"/>
</g></g>
<g clip-path="url(#cr)"><g filter="url(#b1)">
<ellipse cx="95" cy="397.35" rx="8.8" ry="2.2" fill="#111" opacity="0.9"/>
<ellipse cx="112" cy="397.05" rx="6.8" ry="1.4" fill="#111" opacity="0.55"/>
</g></g>
<text transform="translate(146.00,399.60) " font-size="7.8" text-anchor="start" fill="#333333" font-weight="normal" >Cyclin B1</text>
<rect x="16.20" y="407.50" width="59.40" height="12.50" fill="#a6a6a6" />
<rect x="82.30" y="407.50" width="59.70" height="12.50" fill="#a5a5a5" />
<rect x="16.20" y="407.50" width="59.40" height="0.80" fill="#ffffff" opacity="0.15"/>
<rect x="82.30" y="407.50" width="59.70" height="0.80" fill="#ffffff" opacity="0.15"/>
<rect x="16.20" y="419.20" width="59.40" height="0.80" fill="#000" opacity="0.12"/>
<rect x="82.30" y="419.20" width="59.70" height="0.80" fill="#000" opacity="0.12"/>
<g clip-path="url(#cl)"><g filter="url(#b1)">
<ellipse cx="27.3" cy="413.45" rx="8.3" ry="1.8" fill="#111" opacity="0.9"/>
<ellipse cx="47" cy="414.25" rx="6.8" ry="1.2" fill="#111" opacity="0.4"/>
<ellipse cx="65.6" cy="414.05" rx="6.8" ry="1.0" fill="#111" opacity="0.3"/>
</g></g>
<g clip-path="url(#cr)"><g filter="url(#b1)">
<ellipse cx="95" cy="413.25" rx="9.3" ry="1.7" fill="#111" opacity="0.98"/>
<ellipse cx="112" cy="414.05" rx="7.3" ry="1.2" fill="#111" opacity="0.85"/>
</g></g>
<text transform="translate(146.00,416.30) " font-size="7.8" text-anchor="start" fill="#333333" font-weight="normal" >CDK4</text>
<rect x="16.20" y="424.30" width="59.40" height="12.50" fill="#a2a2a2" />
<rect x="82.30" y="424.30" width="59.70" height="12.50" fill="#a8a8a8" />
<rect x="16.20" y="424.30" width="59.40" height="0.80" fill="#ffffff" opacity="0.15"/>
<rect x="82.30" y="424.30" width="59.70" height="0.80" fill="#ffffff" opacity="0.15"/>
<rect x="16.20" y="436.00" width="59.40" height="0.80" fill="#000" opacity="0.12"/>
<rect x="82.30" y="436.00" width="59.70" height="0.80" fill="#000" opacity="0.12"/>
<g clip-path="url(#cl)"><g filter="url(#b1)">
<ellipse cx="27.3" cy="431.05" rx="9.8" ry="2.4" fill="#111" opacity="0.65"/>
<ellipse cx="47" cy="431.05" rx="8.3" ry="2.0" fill="#111" opacity="0.4"/>
<ellipse cx="65.6" cy="431.05" rx="8.3" ry="1.8" fill="#111" opacity="0.3"/>
</g></g>
<g clip-path="url(#cr)"><g filter="url(#b1)">
<ellipse cx="95" cy="430.25" rx="9.3" ry="3" fill="#111" opacity="0.5"/>
<ellipse cx="112" cy="431.55" rx="7.8" ry="1.6" fill="#111" opacity="0.15"/>
<ellipse cx="131" cy="431.05" rx="8.3" ry="2" fill="#111" opacity="0.3"/>
</g></g>
<text transform="translate(146.00,433.10) " font-size="7.8" text-anchor="start" fill="#333333" font-weight="normal" >CDK6</text>
<rect x="16.20" y="441.00" width="59.40" height="12.50" fill="#bcbcbc" />
<rect x="82.30" y="441.00" width="59.70" height="12.50" fill="#bdbdbd" />
<rect x="16.20" y="441.00" width="59.40" height="0.80" fill="#ffffff" opacity="0.15"/>
<rect x="82.30" y="441.00" width="59.70" height="0.80" fill="#ffffff" opacity="0.15"/>
<rect x="16.20" y="452.70" width="59.40" height="0.80" fill="#000" opacity="0.12"/>
<rect x="82.30" y="452.70" width="59.70" height="0.80" fill="#000" opacity="0.12"/>
<g clip-path="url(#cl)"><g filter="url(#b1)">
<ellipse cx="47" cy="447.75" rx="7.3" ry="1.2" fill="#111" opacity="0.22"/>
<ellipse cx="65.6" cy="447.55" rx="8.3" ry="1.4" fill="#111" opacity="0.4"/>
</g></g>
<g clip-path="url(#cr)"><g filter="url(#b1)">
<ellipse cx="95" cy="447.25" rx="6.8" ry="1.2" fill="#111" opacity="0.25"/>
<ellipse cx="112" cy="446.95" rx="8.3" ry="1.5" fill="#111" opacity="0.5"/>
<ellipse cx="131" cy="447.25" rx="7.8" ry="1.3" fill="#111" opacity="0.3"/>
</g></g>
<text transform="translate(146.00,449.80) " font-size="7.8" text-anchor="start" fill="#333333" font-weight="normal" >p21</text>
<rect x="16.20" y="457.80" width="59.40" height="12.50" fill="#858585" />
<rect x="82.30" y="457.80" width="59.70" height="12.50" fill="#878787" />
<rect x="16.20" y="457.80" width="59.40" height="0.80" fill="#ffffff" opacity="0.15"/>
<rect x="82.30" y="457.80" width="59.70" height="0.80" fill="#ffffff" opacity="0.15"/>
<rect x="16.20" y="469.50" width="59.40" height="0.80" fill="#000" opacity="0.12"/>
<rect x="82.30" y="469.50" width="59.70" height="0.80" fill="#000" opacity="0.12"/>
<g clip-path="url(#cl)"><g filter="url(#b1)">
<ellipse cx="27.3" cy="464.85" rx="8.8" ry="1.0" fill="#111" opacity="0.45"/>
<ellipse cx="47" cy="464.35" rx="8.8" ry="1.2" fill="#111" opacity="0.6"/>
<ellipse cx="65.6" cy="464.05" rx="8.8" ry="1.1" fill="#111" opacity="0.55"/>
</g></g>
<g clip-path="url(#cr)"><g filter="url(#b1)">
<ellipse cx="95" cy="464.85" rx="8.8" ry="1.4" fill="#111" opacity="0.45"/>
<ellipse cx="112" cy="464.55" rx="8.8" ry="1.8" fill="#111" opacity="0.8"/>
<ellipse cx="131" cy="464.35" rx="8.8" ry="2.2" fill="#111" opacity="0.9"/>
</g></g>
<text transform="translate(146.00,466.60) " font-size="7.8" text-anchor="start" fill="#333333" font-weight="normal" >p27</text>
<rect x="16.20" y="474.60" width="59.40" height="12.50" fill="#9b9b9b" />
<rect x="82.30" y="474.60" width="59.70" height="12.50" fill="#9d9d9d" />
<rect x="16.20" y="474.60" width="59.40" height="0.80" fill="#ffffff" opacity="0.15"/>
<rect x="82.30" y="474.60" width="59.70" height="0.80" fill="#ffffff" opacity="0.15"/>
<rect x="16.20" y="486.30" width="59.40" height="0.80" fill="#000" opacity="0.12"/>
<rect x="82.30" y="486.30" width="59.70" height="0.80" fill="#000" opacity="0.12"/>
<g clip-path="url(#cl)"><g filter="url(#b1)">
<ellipse cx="27.3" cy="481.05" rx="9.600000000000001" ry="3.4" fill="#111" opacity="1"/>
<ellipse cx="47" cy="481.05" rx="9.0" ry="3.4" fill="#111" opacity="1"/>
<ellipse cx="65.6" cy="481.05" rx="9.600000000000001" ry="3.4" fill="#111" opacity="1"/>
</g></g>
<g clip-path="url(#cr)"><g filter="url(#b1)">
<ellipse cx="95" cy="481.05" rx="9.600000000000001" ry="3.4" fill="#111" opacity="1"/>
<ellipse cx="112" cy="481.05" rx="8.6" ry="3.2" fill="#111" opacity="1"/>
<ellipse cx="131" cy="481.05" rx="9.0" ry="3.2" fill="#111" opacity="1"/>
</g></g>
<text transform="translate(146.00,483.40) " font-size="7.8" text-anchor="start" fill="#333333" font-weight="normal" >β-actin</text>
<rect x="82.30" y="435.60" width="59.70" height="1.20" fill="#333" opacity="0.5"/>
<text transform="translate(191.30,336.00) " font-size="10.5" text-anchor="start" fill="#000" font-weight="bold" >I</text>
<line x1="224.50" y1="360.00" x2="224.50" y2="461.10" stroke="#262626" stroke-width="1.0" />
<line x1="221.50" y1="360.60" x2="224.50" y2="360.60" stroke="#262626" stroke-width="1.0" />
<text transform="translate(218.50,363.55) " font-size="8.2" text-anchor="end" fill="#333333" font-weight="normal" >8.5</text>
<line x1="221.50" y1="385.50" x2="224.50" y2="385.50" stroke="#262626" stroke-width="1.0" />
<text transform="translate(218.50,388.45) " font-size="8.2" text-anchor="end" fill="#333333" font-weight="normal" >8.0</text>
<line x1="221.50" y1="410.80" x2="224.50" y2="410.80" stroke="#262626" stroke-width="1.0" />
<text transform="translate(218.50,413.75) " font-size="8.2" text-anchor="end" fill="#333333" font-weight="normal" >7.5</text>
<line x1="221.50" y1="435.70" x2="224.50" y2="435.70" stroke="#262626" stroke-width="1.0" />
<text transform="translate(218.50,438.65) " font-size="8.2" text-anchor="end" fill="#333333" font-weight="normal" >7.0</text>
<line x1="221.50" y1="460.60" x2="224.50" y2="460.60" stroke="#262626" stroke-width="1.0" />
<text transform="translate(218.50,463.55) " font-size="8.2" text-anchor="end" fill="#333333" font-weight="normal" >6.5</text>
<line x1="224.10" y1="460.60" x2="298.60" y2="460.60" stroke="#262626" stroke-width="1.0" />
<line x1="245.40" y1="460.60" x2="245.40" y2="463.80" stroke="#262626" stroke-width="1.0" />
<text transform="translate(245.40,473.00) " font-size="8.1" text-anchor="middle" fill="#333333" font-weight="normal" >Control</text>
<line x1="277.40" y1="460.60" x2="277.40" y2="463.80" stroke="#262626" stroke-width="1.0" />
<text transform="translate(277.40,473.00) " font-size="8.1" text-anchor="middle" fill="#333333" font-weight="normal" >KD1</text>
<text transform="translate(201.50,405.20) rotate(-90) scale(0.825,1)" font-size="9" text-anchor="middle" fill="#333333" font-weight="normal" >pHi</text>
<path d="M245.40,366.80 V359.00 H277.40 V409.20" stroke="#262626" stroke-width="0.9" fill="none" />
<text transform="translate(261.40,359.30) " font-size="8.3" text-anchor="middle" fill="#333333" font-weight="normal" >***</text>
<circle cx="247.80" cy="385.61" r="1.0" fill="#c5203e"/>
<circle cx="249.10" cy="385.71" r="1.0" fill="#c5203e"/>
<circle cx="246.50" cy="386.40" r="1.0" fill="#c5203e"/>
<circle cx="247.80" cy="387.34" r="1.0" fill="#c5203e"/>
<circle cx="249.10" cy="387.65" r="1.0" fill="#c5203e"/>
<circle cx="246.50" cy="387.80" r="1.0" fill="#c5203e"/>
<circle cx="247.80" cy="388.86" r="1.0" fill="#c5203e"/>
<circle cx="249.10" cy="389.01" r="1.0" fill="#c5203e"/>
<circle cx="250.40" cy="389.05" r="1.0" fill="#c5203e"/>
<circle cx="246.50" cy="390.00" r="1.0" fill="#c5203e"/>
<circle cx="247.80" cy="390.21" r="1.0" fill="#c5203e"/>
<circle cx="249.10" cy="391.08" r="1.0" fill="#c5203e"/>
<circle cx="247.80" cy="391.99" r="1.0" fill="#c5203e"/>
<circle cx="246.50" cy="392.06" r="1.0" fill="#c5203e"/>
<circle cx="250.40" cy="392.22" r="1.0" fill="#c5203e"/>
<circle cx="249.10" cy="392.46" r="1.0" fill="#c5203e"/>
<circle cx="245.20" cy="392.90" r="1.0" fill="#c5203e"/>
<circle cx="251.70" cy="392.95" r="1.0" fill="#c5203e"/>
<circle cx="247.80" cy="393.36" r="1.0" fill="#c5203e"/>
<circle cx="246.50" cy="393.38" r="1.0" fill="#c5203e"/>
<circle cx="249.10" cy="393.83" r="1.0" fill="#c5203e"/>
<circle cx="250.40" cy="393.95" r="1.0" fill="#c5203e"/>
<circle cx="243.90" cy="394.08" r="1.0" fill="#c5203e"/>
<circle cx="253.00" cy="394.13" r="1.0" fill="#c5203e"/>
<circle cx="245.20" cy="394.61" r="1.0" fill="#c5203e"/>
<circle cx="247.80" cy="394.68" r="1.0" fill="#c5203e"/>
<circle cx="246.50" cy="394.99" r="1.0" fill="#c5203e"/>
<circle cx="251.70" cy="395.08" r="1.0" fill="#c5203e"/>
<circle cx="249.10" cy="395.12" r="1.0" fill="#c5203e"/>
<circle cx="250.40" cy="395.74" r="1.0" fill="#c5203e"/>
<circle cx="243.90" cy="395.87" r="1.0" fill="#c5203e"/>
<circle cx="245.20" cy="395.91" r="1.0" fill="#c5203e"/>
<circle cx="247.80" cy="396.26" r="1.0" fill="#c5203e"/>
<circle cx="249.10" cy="396.44" r="1.0" fill="#c5203e"/>
<circle cx="246.50" cy="396.52" r="1.0" fill="#c5203e"/>
<circle cx="250.40" cy="397.16" r="1.0" fill="#c5203e"/>
<circle cx="251.70" cy="397.16" r="1.0" fill="#c5203e"/>
<circle cx="245.20" cy="397.43" r="1.0" fill="#c5203e"/>
<circle cx="243.90" cy="397.52" r="1.0" fill="#c5203e"/>
<circle cx="247.80" cy="398.09" r="1.0" fill="#c5203e"/>
<circle cx="249.10" cy="398.52" r="1.0" fill="#c5203e"/>
<circle cx="246.50" cy="398.74" r="1.0" fill="#c5203e"/>
<circle cx="250.40" cy="398.91" r="1.0" fill="#c5203e"/>
<circle cx="245.20" cy="399.24" r="1.0" fill="#c5203e"/>
<circle cx="251.70" cy="399.27" r="1.0" fill="#c5203e"/>
<circle cx="243.90" cy="399.27" r="1.0" fill="#c5203e"/>
<circle cx="253.00" cy="399.29" r="1.0" fill="#c5203e"/>
<circle cx="242.60" cy="399.29" r="1.0" fill="#c5203e"/>
<circle cx="247.80" cy="399.63" r="1.0" fill="#c5203e"/>
<circle cx="254.30" cy="399.65" r="1.0" fill="#c5203e"/>
<circle cx="249.10" cy="399.94" r="1.0" fill="#c5203e"/>
<circle cx="241.30" cy="399.97" r="1.0" fill="#c5203e"/>
<circle cx="246.50" cy="400.16" r="1.0" fill="#c5203e"/>
<circle cx="255.60" cy="400.17" r="1.0" fill="#c5203e"/>
<circle cx="250.40" cy="400.34" r="1.0" fill="#c5203e"/>
<circle cx="240.00" cy="400.36" r="1.0" fill="#c5203e"/>
<circle cx="245.20" cy="400.78" r="1.0" fill="#c5203e"/>
<circle cx="251.70" cy="400.79" r="1.0" fill="#c5203e"/>
<circle cx="243.90" cy="400.84" r="1.0" fill="#c5203e"/>
<circle cx="253.00" cy="400.87" r="1.0" fill="#c5203e"/>
<circle cx="247.80" cy="400.93" r="1.0" fill="#c5203e"/>
<circle cx="242.60" cy="401.14" r="1.0" fill="#c5203e"/>
<circle cx="249.10" cy="401.27" r="1.0" fill="#c5203e"/>
<circle cx="246.50" cy="401.49" r="1.0" fill="#c5203e"/>
<circle cx="254.30" cy="401.59" r="1.0" fill="#c5203e"/>
<circle cx="250.40" cy="401.82" r="1.0" fill="#c5203e"/>
<circle cx="247.80" cy="402.77" r="1.0" fill="#c5203e"/>
<circle cx="249.10" cy="402.93" r="1.0" fill="#c5203e"/>
<circle cx="246.50" cy="403.48" r="1.0" fill="#c5203e"/>
<circle cx="250.40" cy="403.66" r="1.0" fill="#c5203e"/>
<circle cx="245.20" cy="404.02" r="1.0" fill="#c5203e"/>
<circle cx="247.80" cy="404.41" r="1.0" fill="#c5203e"/>
<circle cx="249.10" cy="404.47" r="1.0" fill="#c5203e"/>
<circle cx="246.50" cy="404.98" r="1.0" fill="#c5203e"/>
<circle cx="250.40" cy="405.13" r="1.0" fill="#c5203e"/>
<circle cx="245.20" cy="405.53" r="1.0" fill="#c5203e"/>
<circle cx="251.70" cy="405.64" r="1.0" fill="#c5203e"/>
<circle cx="247.80" cy="406.44" r="1.0" fill="#c5203e"/>
<circle cx="249.10" cy="406.46" r="1.0" fill="#c5203e"/>
<circle cx="247.80" cy="408.11" r="1.0" fill="#c5203e"/>
<circle cx="247.8" cy="381.8" r="0.95" fill="#c5203e"/>
<circle cx="247.2" cy="424.2" r="0.95" fill="#c5203e"/>
<circle cx="246.6" cy="384.5" r="0.95" fill="#c5203e"/>
<circle cx="277.40" cy="422.32" r="1.05" fill="#114d86"/>
<circle cx="278.52" cy="422.88" r="1.05" fill="#114d86"/>
<circle cx="277.40" cy="424.89" r="1.05" fill="#114d86"/>
<circle cx="278.52" cy="425.44" r="1.05" fill="#114d86"/>
<circle cx="276.28" cy="425.82" r="1.05" fill="#114d86"/>
<circle cx="277.40" cy="426.27" r="1.05" fill="#114d86"/>
<circle cx="278.52" cy="426.91" r="1.05" fill="#114d86"/>
<circle cx="276.28" cy="427.14" r="1.05" fill="#114d86"/>
<circle cx="279.64" cy="427.29" r="1.05" fill="#114d86"/>
<circle cx="277.40" cy="427.63" r="1.05" fill="#114d86"/>
<circle cx="275.16" cy="427.78" r="1.05" fill="#114d86"/>
<circle cx="278.52" cy="428.11" r="1.05" fill="#114d86"/>
<circle cx="276.28" cy="428.61" r="1.05" fill="#114d86"/>
<circle cx="277.40" cy="428.92" r="1.05" fill="#114d86"/>
<circle cx="278.52" cy="429.35" r="1.05" fill="#114d86"/>
<circle cx="279.64" cy="429.45" r="1.05" fill="#114d86"/>
<circle cx="276.28" cy="429.72" r="1.05" fill="#114d86"/>
<circle cx="275.16" cy="429.83" r="1.05" fill="#114d86"/>
<circle cx="280.76" cy="429.94" r="1.05" fill="#114d86"/>
<circle cx="277.40" cy="430.09" r="1.05" fill="#114d86"/>
<circle cx="274.04" cy="430.13" r="1.05" fill="#114d86"/>
<circle cx="281.88" cy="430.15" r="1.05" fill="#114d86"/>
<circle cx="272.92" cy="430.19" r="1.05" fill="#114d86"/>
<circle cx="283.00" cy="430.33" r="1.05" fill="#114d86"/>
<circle cx="271.80" cy="430.40" r="1.05" fill="#114d86"/>
<circle cx="278.52" cy="430.46" r="1.05" fill="#114d86"/>
<circle cx="279.64" cy="430.59" r="1.05" fill="#114d86"/>
<circle cx="276.28" cy="430.83" r="1.05" fill="#114d86"/>
<circle cx="275.16" cy="430.97" r="1.05" fill="#114d86"/>
<circle cx="284.12" cy="431.00" r="1.05" fill="#114d86"/>
<circle cx="280.76" cy="431.09" r="1.05" fill="#114d86"/>
<circle cx="270.68" cy="431.09" r="1.05" fill="#114d86"/>
<circle cx="285.24" cy="431.14" r="1.05" fill="#114d86"/>
<circle cx="277.40" cy="431.26" r="1.05" fill="#114d86"/>
<circle cx="274.04" cy="431.37" r="1.05" fill="#114d86"/>
<circle cx="281.88" cy="431.39" r="1.05" fill="#114d86"/>
<circle cx="278.52" cy="431.56" r="1.05" fill="#114d86"/>
<circle cx="272.92" cy="431.60" r="1.05" fill="#114d86"/>
<circle cx="279.64" cy="431.69" r="1.05" fill="#114d86"/>
<circle cx="276.28" cy="432.01" r="1.05" fill="#114d86"/>
<circle cx="275.16" cy="432.08" r="1.05" fill="#114d86"/>
<circle cx="283.00" cy="432.12" r="1.05" fill="#114d86"/>
<circle cx="277.40" cy="432.41" r="1.05" fill="#114d86"/>
<circle cx="280.76" cy="432.43" r="1.05" fill="#114d86"/>
<circle cx="274.04" cy="432.54" r="1.05" fill="#114d86"/>
<circle cx="281.88" cy="432.56" r="1.05" fill="#114d86"/>
<circle cx="278.52" cy="432.70" r="1.05" fill="#114d86"/>
<circle cx="272.92" cy="432.70" r="1.05" fill="#114d86"/>
<circle cx="271.80" cy="432.77" r="1.05" fill="#114d86"/>
<circle cx="279.64" cy="432.81" r="1.05" fill="#114d86"/>
<circle cx="284.12" cy="432.91" r="1.05" fill="#114d86"/>
<circle cx="270.68" cy="432.95" r="1.05" fill="#114d86"/>
<circle cx="285.24" cy="433.08" r="1.05" fill="#114d86"/>
<circle cx="276.28" cy="433.36" r="1.05" fill="#114d86"/>
<circle cx="275.16" cy="433.40" r="1.05" fill="#114d86"/>
<circle cx="283.00" cy="433.46" r="1.05" fill="#114d86"/>
<circle cx="269.56" cy="433.48" r="1.05" fill="#114d86"/>
<circle cx="277.40" cy="433.52" r="1.05" fill="#114d86"/>
<circle cx="280.76" cy="433.55" r="1.05" fill="#114d86"/>
<circle cx="286.36" cy="433.56" r="1.05" fill="#114d86"/>
<circle cx="274.04" cy="433.70" r="1.05" fill="#114d86"/>
<circle cx="281.88" cy="433.75" r="1.05" fill="#114d86"/>
<circle cx="278.52" cy="433.81" r="1.05" fill="#114d86"/>
<circle cx="272.92" cy="433.83" r="1.05" fill="#114d86"/>
<circle cx="279.64" cy="434.20" r="1.05" fill="#114d86"/>
<circle cx="276.28" cy="434.46" r="1.05" fill="#114d86"/>
<circle cx="275.16" cy="434.51" r="1.05" fill="#114d86"/>
<circle cx="271.80" cy="434.52" r="1.05" fill="#114d86"/>
<circle cx="277.40" cy="434.74" r="1.05" fill="#114d86"/>
<circle cx="280.76" cy="434.82" r="1.05" fill="#114d86"/>
<circle cx="274.04" cy="434.84" r="1.05" fill="#114d86"/>
<circle cx="281.88" cy="434.85" r="1.05" fill="#114d86"/>
<circle cx="278.52" cy="435.03" r="1.05" fill="#114d86"/>
<circle cx="272.92" cy="435.07" r="1.05" fill="#114d86"/>
<circle cx="283.00" cy="435.14" r="1.05" fill="#114d86"/>
<circle cx="279.64" cy="435.44" r="1.05" fill="#114d86"/>
<circle cx="284.12" cy="435.50" r="1.05" fill="#114d86"/>
<circle cx="277.40" cy="435.89" r="1.05" fill="#114d86"/>
<circle cx="276.28" cy="435.96" r="1.05" fill="#114d86"/>
<circle cx="278.52" cy="436.38" r="1.05" fill="#114d86"/>
<circle cx="279.64" cy="436.58" r="1.05" fill="#114d86"/>
<circle cx="275.16" cy="436.67" r="1.05" fill="#114d86"/>
<circle cx="277.40" cy="437.02" r="1.05" fill="#114d86"/>
<circle cx="276.28" cy="437.07" r="1.05" fill="#114d86"/>
<circle cx="278.52" cy="437.85" r="1.05" fill="#114d86"/>
<circle cx="277.6" cy="420.8" r="0.95" fill="#114d86"/>
<text transform="translate(332.00,336.00) " font-size="11.2" text-anchor="start" fill="#000" font-weight="bold" >J</text>
<text transform="translate(377.50,341.30) " font-size="8.2" text-anchor="middle" fill="#333333" font-weight="normal" >Control</text>
<text transform="translate(462.00,341.30) " font-size="8.2" text-anchor="middle" fill="#333333" font-weight="normal" >KD1</text>
<clipPath id="j1"><rect x="338" y="344.2" width="80.1" height="64.8"/></clipPath>
<clipPath id="j2"><rect x="423.3" y="344.2" width="79.7" height="65.3"/></clipPath>
<rect x="338.00" y="344.20" width="80.10" height="64.80" fill="#0c1b0a" stroke="#060c06" stroke-width="0.8"/>
<g clip-path="url(#j1)">
<g filter="url(#b4)"><rect x="330" y="361" width="95" height="27" fill="#15331a" opacity="0.85"/><rect x="330" y="393" width="95" height="22" fill="#16290f" opacity="0.95"/><ellipse cx="352" cy="374" rx="13" ry="9" fill="#1c4520" opacity="0.5"/><ellipse cx="392" cy="373" rx="18" ry="8" fill="#1a4220" opacity="0.45"/></g>
<g filter="url(#b2)">
<ellipse cx="389.5" cy="356.4" rx="2.80" ry="2.60" fill="#1c8c36" opacity="0.27" transform="rotate(0 389.5 356.4)"/>
<ellipse cx="390.4" cy="366.3" rx="4.20" ry="2.80" fill="#1c8c36" opacity="0.38" transform="rotate(-40 390.4 366.3)"/>
<ellipse cx="402.8" cy="367.7" rx="4.60" ry="3.20" fill="#1c8c36" opacity="0.38" transform="rotate(0 402.8 367.7)"/>
<ellipse cx="398.1" cy="372" rx="3.60" ry="3.00" fill="#1c8c36" opacity="0.38" transform="rotate(0 398.1 372)"/>
<ellipse cx="404.2" cy="374.6" rx="2.80" ry="2.60" fill="#1c8c36" opacity="0.38" transform="rotate(0 404.2 374.6)"/>
<ellipse cx="412.9" cy="378.9" rx="3.60" ry="3.00" fill="#1c8c36" opacity="0.38" transform="rotate(0 412.9 378.9)"/>
<ellipse cx="382.6" cy="384.1" rx="3.60" ry="2.80" fill="#1c8c36" opacity="0.38" transform="rotate(0 382.6 384.1)"/>
<ellipse cx="354" cy="380.1" rx="4.00" ry="3.20" fill="#1c8c36" opacity="0.38" transform="rotate(0 354 380.1)"/>
<ellipse cx="349.2" cy="381.5" rx="3.20" ry="2.60" fill="#1c8c36" opacity="0.30" transform="rotate(0 349.2 381.5)"/>
<ellipse cx="343.7" cy="381.5" rx="3.20" ry="2.80" fill="#1c8c36" opacity="0.32" transform="rotate(0 343.7 381.5)"/>
<ellipse cx="359.2" cy="385.3" rx="3.20" ry="2.60" fill="#1c8c36" opacity="0.27" transform="rotate(30 359.2 385.3)"/>
<ellipse cx="363.5" cy="375.5" rx="6.40" ry="2.80" fill="#1c8c36" opacity="0.38" transform="rotate(-15 363.5 375.5)"/>
<ellipse cx="348.8" cy="372.9" rx="4.00" ry="3.00" fill="#1c8c36" opacity="0.36" transform="rotate(20 348.8 372.9)"/>
<ellipse cx="352.3" cy="368.5" rx="4.00" ry="3.00" fill="#1c8c36" opacity="0.34" transform="rotate(-30 352.3 368.5)"/>
<ellipse cx="344.5" cy="366" rx="3.60" ry="2.80" fill="#1c8c36" opacity="0.23" transform="rotate(0 344.5 366)"/>
<ellipse cx="343.7" cy="358.2" rx="3.60" ry="2.80" fill="#1c8c36" opacity="0.13" transform="rotate(0 343.7 358.2)"/>
<ellipse cx="364.4" cy="366" rx="3.40" ry="3.00" fill="#1c8c36" opacity="0.23" transform="rotate(40 364.4 366)"/>
<ellipse cx="373.9" cy="381.5" rx="3.80" ry="3.00" fill="#1c8c36" opacity="0.38" transform="rotate(-30 373.9 381.5)"/>
<ellipse cx="372.2" cy="373.7" rx="4.40" ry="3.00" fill="#1c8c36" opacity="0.25" transform="rotate(-20 372.2 373.7)"/>
<ellipse cx="376.5" cy="363.4" rx="4.00" ry="2.60" fill="#1c8c36" opacity="0.21" transform="rotate(20 376.5 363.4)"/>
<ellipse cx="381.7" cy="364.2" rx="4.00" ry="3.00" fill="#1c8c36" opacity="0.30" transform="rotate(30 381.7 364.2)"/>
<ellipse cx="385.2" cy="370.3" rx="3.60" ry="2.80" fill="#1c8c36" opacity="0.25" transform="rotate(0 385.2 370.3)"/>
<ellipse cx="391.2" cy="374.6" rx="3.60" ry="2.80" fill="#1c8c36" opacity="0.19" transform="rotate(0 391.2 374.6)"/>
<ellipse cx="384.3" cy="379.8" rx="3.20" ry="2.60" fill="#1c8c36" opacity="0.15" transform="rotate(0 384.3 379.8)"/>
<ellipse cx="396.4" cy="386.7" rx="3.80" ry="3.20" fill="#1c8c36" opacity="0.38" transform="rotate(0 396.4 386.7)"/>
<ellipse cx="404.2" cy="385.8" rx="3.00" ry="2.60" fill="#1c8c36" opacity="0.27" transform="rotate(0 404.2 385.8)"/>
<ellipse cx="411.1" cy="401.4" rx="4.00" ry="3.20" fill="#1c8c36" opacity="0.15" transform="rotate(0 411.1 401.4)"/>
<ellipse cx="415.4" cy="351.2" rx="2.00" ry="2.00" fill="#1c8c36" opacity="0.15" transform="rotate(0 415.4 351.2)"/>
<ellipse cx="341" cy="376.3" rx="2.80" ry="3.60" fill="#1c8c36" opacity="0.23" transform="rotate(0 341 376.3)"/>
<ellipse cx="368" cy="379" rx="3.20" ry="2.40" fill="#1c8c36" opacity="0.19" transform="rotate(0 368 379)"/>
<ellipse cx="357" cy="376" rx="3.00" ry="2.40" fill="#1c8c36" opacity="0.19" transform="rotate(0 357 376)"/>
<ellipse cx="378" cy="377" rx="3.00" ry="2.40" fill="#1c8c36" opacity="0.15" transform="rotate(0 378 377)"/>
<ellipse cx="408" cy="371" rx="2.60" ry="2.20" fill="#1c8c36" opacity="0.17" transform="rotate(0 408 371)"/>
<ellipse cx="374.9" cy="360.3" rx="2.80" ry="2.40" fill="#1c8c36" opacity="0.16" transform="rotate(30 374.9 360.3)"/>
<ellipse cx="401.3" cy="368.6" rx="2.80" ry="2.40" fill="#1c8c36" opacity="0.12" transform="rotate(60 401.3 368.6)"/>
<ellipse cx="363.8" cy="384.0" rx="3.20" ry="1.80" fill="#1c8c36" opacity="0.21" transform="rotate(60 363.8 384.0)"/>
<ellipse cx="390.0" cy="380.4" rx="3.00" ry="2.00" fill="#1c8c36" opacity="0.10" transform="rotate(0 390.0 380.4)"/>
<ellipse cx="345.5" cy="375.8" rx="2.20" ry="2.20" fill="#1c8c36" opacity="0.14" transform="rotate(30 345.5 375.8)"/>
<ellipse cx="379.9" cy="378.5" rx="3.00" ry="2.20" fill="#1c8c36" opacity="0.17" transform="rotate(60 379.9 378.5)"/>
<ellipse cx="390.1" cy="367.1" rx="3.60" ry="1.80" fill="#1c8c36" opacity="0.13" transform="rotate(30 390.1 367.1)"/>
<ellipse cx="379.5" cy="378.5" rx="2.20" ry="2.40" fill="#1c8c36" opacity="0.11" transform="rotate(0 379.5 378.5)"/>
<ellipse cx="404.5" cy="361.6" rx="3.40" ry="1.80" fill="#1c8c36" opacity="0.12" transform="rotate(0 404.5 361.6)"/>
<ellipse cx="376.2" cy="384.7" rx="3.60" ry="2.20" fill="#1c8c36" opacity="0.10" transform="rotate(30 376.2 384.7)"/>
<ellipse cx="399.4" cy="373.7" rx="2.60" ry="2.80" fill="#1c8c36" opacity="0.18" transform="rotate(0 399.4 373.7)"/>
<ellipse cx="351.1" cy="376.8" rx="3.20" ry="1.80" fill="#1c8c36" opacity="0.15" transform="rotate(60 351.1 376.8)"/>
<ellipse cx="354.3" cy="367.4" rx="2.40" ry="2.60" fill="#1c8c36" opacity="0.11" transform="rotate(60 354.3 367.4)"/>
<ellipse cx="349.7" cy="371.4" rx="2.80" ry="2.00" fill="#1c8c36" opacity="0.13" transform="rotate(-30 349.7 371.4)"/>
<ellipse cx="415.8" cy="378.2" rx="3.60" ry="2.40" fill="#1c8c36" opacity="0.16" transform="rotate(0 415.8 378.2)"/>
<ellipse cx="415.2" cy="374.5" rx="2.40" ry="2.00" fill="#1c8c36" opacity="0.18" transform="rotate(-30 415.2 374.5)"/>
<ellipse cx="403.3" cy="372.1" rx="2.40" ry="2.40" fill="#1c8c36" opacity="0.10" transform="rotate(-30 403.3 372.1)"/>
<ellipse cx="368.9" cy="375.7" rx="2.80" ry="2.80" fill="#1c8c36" opacity="0.15" transform="rotate(30 368.9 375.7)"/>
<ellipse cx="406.0" cy="375.5" rx="3.40" ry="2.60" fill="#1c8c36" opacity="0.12" transform="rotate(30 406.0 375.5)"/>
<ellipse cx="352.9" cy="377.4" rx="3.00" ry="2.40" fill="#1c8c36" opacity="0.17" transform="rotate(60 352.9 377.4)"/>
<ellipse cx="407.2" cy="368.6" rx="2.40" ry="1.80" fill="#1c8c36" opacity="0.21" transform="rotate(30 407.2 368.6)"/>
<ellipse cx="396.5" cy="369.9" rx="2.80" ry="2.20" fill="#1c8c36" opacity="0.20" transform="rotate(60 396.5 369.9)"/>
</g><g filter="url(#b3)">
<ellipse cx="389.5" cy="356.4" rx="1.75" ry="1.62" fill="#40e868" opacity="0.64" transform="rotate(0 389.5 356.4)"/>
<ellipse cx="390.4" cy="366.3" rx="2.62" ry="1.75" fill="#40e868" opacity="0.92" transform="rotate(-40 390.4 366.3)"/>
<ellipse cx="402.8" cy="367.7" rx="2.88" ry="2.00" fill="#40e868" opacity="0.92" transform="rotate(0 402.8 367.7)"/>
<ellipse cx="398.1" cy="372" rx="2.25" ry="1.88" fill="#40e868" opacity="0.92" transform="rotate(0 398.1 372)"/>
<ellipse cx="404.2" cy="374.6" rx="1.75" ry="1.62" fill="#40e868" opacity="0.92" transform="rotate(0 404.2 374.6)"/>
<ellipse cx="412.9" cy="378.9" rx="2.25" ry="1.88" fill="#40e868" opacity="0.92" transform="rotate(0 412.9 378.9)"/>
<ellipse cx="382.6" cy="384.1" rx="2.25" ry="1.75" fill="#40e868" opacity="0.92" transform="rotate(0 382.6 384.1)"/>
<ellipse cx="354" cy="380.1" rx="2.50" ry="2.00" fill="#40e868" opacity="0.92" transform="rotate(0 354 380.1)"/>
<ellipse cx="349.2" cy="381.5" rx="2.00" ry="1.62" fill="#40e868" opacity="0.74" transform="rotate(0 349.2 381.5)"/>
<ellipse cx="343.7" cy="381.5" rx="2.00" ry="1.75" fill="#40e868" opacity="0.78" transform="rotate(0 343.7 381.5)"/>
<ellipse cx="359.2" cy="385.3" rx="2.00" ry="1.62" fill="#40e868" opacity="0.64" transform="rotate(30 359.2 385.3)"/>
<ellipse cx="363.5" cy="375.5" rx="4.00" ry="1.75" fill="#40e868" opacity="0.92" transform="rotate(-15 363.5 375.5)"/>
<ellipse cx="348.8" cy="372.9" rx="2.50" ry="1.88" fill="#40e868" opacity="0.87" transform="rotate(20 348.8 372.9)"/>
<ellipse cx="352.3" cy="368.5" rx="2.50" ry="1.88" fill="#40e868" opacity="0.83" transform="rotate(-30 352.3 368.5)"/>
<ellipse cx="344.5" cy="366" rx="2.25" ry="1.75" fill="#40e868" opacity="0.55" transform="rotate(0 344.5 366)"/>
<ellipse cx="343.7" cy="358.2" rx="2.25" ry="1.75" fill="#40e868" opacity="0.32" transform="rotate(0 343.7 358.2)"/>
<ellipse cx="364.4" cy="366" rx="2.12" ry="1.88" fill="#40e868" opacity="0.55" transform="rotate(40 364.4 366)"/>
<ellipse cx="373.9" cy="381.5" rx="2.38" ry="1.88" fill="#40e868" opacity="0.92" transform="rotate(-30 373.9 381.5)"/>
<ellipse cx="372.2" cy="373.7" rx="2.75" ry="1.88" fill="#40e868" opacity="0.60" transform="rotate(-20 372.2 373.7)"/>
<ellipse cx="376.5" cy="363.4" rx="2.50" ry="1.62" fill="#40e868" opacity="0.51" transform="rotate(20 376.5 363.4)"/>
<ellipse cx="381.7" cy="364.2" rx="2.50" ry="1.88" fill="#40e868" opacity="0.74" transform="rotate(30 381.7 364.2)"/>
<ellipse cx="385.2" cy="370.3" rx="2.25" ry="1.75" fill="#40e868" opacity="0.60" transform="rotate(0 385.2 370.3)"/>
<ellipse cx="391.2" cy="374.6" rx="2.25" ry="1.75" fill="#40e868" opacity="0.46" transform="rotate(0 391.2 374.6)"/>
<ellipse cx="384.3" cy="379.8" rx="2.00" ry="1.62" fill="#40e868" opacity="0.37" transform="rotate(0 384.3 379.8)"/>
<ellipse cx="396.4" cy="386.7" rx="2.38" ry="2.00" fill="#40e868" opacity="0.92" transform="rotate(0 396.4 386.7)"/>
<ellipse cx="404.2" cy="385.8" rx="1.88" ry="1.62" fill="#40e868" opacity="0.64" transform="rotate(0 404.2 385.8)"/>
<ellipse cx="411.1" cy="401.4" rx="2.50" ry="2.00" fill="#40e868" opacity="0.37" transform="rotate(0 411.1 401.4)"/>
<ellipse cx="415.4" cy="351.2" rx="1.25" ry="1.25" fill="#40e868" opacity="0.37" transform="rotate(0 415.4 351.2)"/>
<ellipse cx="341" cy="376.3" rx="1.75" ry="2.25" fill="#40e868" opacity="0.55" transform="rotate(0 341 376.3)"/>
<ellipse cx="368" cy="379" rx="2.00" ry="1.50" fill="#40e868" opacity="0.46" transform="rotate(0 368 379)"/>
<ellipse cx="357" cy="376" rx="1.88" ry="1.50" fill="#40e868" opacity="0.46" transform="rotate(0 357 376)"/>
<ellipse cx="378" cy="377" rx="1.88" ry="1.50" fill="#40e868" opacity="0.37" transform="rotate(0 378 377)"/>
<ellipse cx="408" cy="371" rx="1.62" ry="1.38" fill="#40e868" opacity="0.41" transform="rotate(0 408 371)"/>
<ellipse cx="374.9" cy="360.3" rx="1.75" ry="1.50" fill="#40e868" opacity="0.40" transform="rotate(30 374.9 360.3)"/>
<ellipse cx="401.3" cy="368.6" rx="1.75" ry="1.50" fill="#40e868" opacity="0.29" transform="rotate(60 401.3 368.6)"/>
<ellipse cx="363.8" cy="384.0" rx="2.00" ry="1.12" fill="#40e868" opacity="0.50" transform="rotate(60 363.8 384.0)"/>
<ellipse cx="390.0" cy="380.4" rx="1.88" ry="1.25" fill="#40e868" opacity="0.23" transform="rotate(0 390.0 380.4)"/>
<ellipse cx="345.5" cy="375.8" rx="1.38" ry="1.38" fill="#40e868" opacity="0.35" transform="rotate(30 345.5 375.8)"/>
<ellipse cx="379.9" cy="378.5" rx="1.88" ry="1.38" fill="#40e868" opacity="0.41" transform="rotate(60 379.9 378.5)"/>
<ellipse cx="390.1" cy="367.1" rx="2.25" ry="1.12" fill="#40e868" opacity="0.30" transform="rotate(30 390.1 367.1)"/>
<ellipse cx="379.5" cy="378.5" rx="1.38" ry="1.50" fill="#40e868" opacity="0.26" transform="rotate(0 379.5 378.5)"/>
<ellipse cx="404.5" cy="361.6" rx="2.12" ry="1.12" fill="#40e868" opacity="0.29" transform="rotate(0 404.5 361.6)"/>
<ellipse cx="376.2" cy="384.7" rx="2.25" ry="1.38" fill="#40e868" opacity="0.25" transform="rotate(30 376.2 384.7)"/>
<ellipse cx="399.4" cy="373.7" rx="1.62" ry="1.75" fill="#40e868" opacity="0.44" transform="rotate(0 399.4 373.7)"/>
<ellipse cx="351.1" cy="376.8" rx="2.00" ry="1.12" fill="#40e868" opacity="0.36" transform="rotate(60 351.1 376.8)"/>
<ellipse cx="354.3" cy="367.4" rx="1.50" ry="1.62" fill="#40e868" opacity="0.27" transform="rotate(60 354.3 367.4)"/>
<ellipse cx="349.7" cy="371.4" rx="1.75" ry="1.25" fill="#40e868" opacity="0.30" transform="rotate(-30 349.7 371.4)"/>
<ellipse cx="415.8" cy="378.2" rx="2.25" ry="1.50" fill="#40e868" opacity="0.39" transform="rotate(0 415.8 378.2)"/>
<ellipse cx="415.2" cy="374.5" rx="1.50" ry="1.25" fill="#40e868" opacity="0.44" transform="rotate(-30 415.2 374.5)"/>
<ellipse cx="403.3" cy="372.1" rx="1.50" ry="1.50" fill="#40e868" opacity="0.23" transform="rotate(-30 403.3 372.1)"/>
<ellipse cx="368.9" cy="375.7" rx="1.75" ry="1.75" fill="#40e868" opacity="0.37" transform="rotate(30 368.9 375.7)"/>
<ellipse cx="406.0" cy="375.5" rx="2.12" ry="1.62" fill="#40e868" opacity="0.29" transform="rotate(30 406.0 375.5)"/>
<ellipse cx="352.9" cy="377.4" rx="1.88" ry="1.50" fill="#40e868" opacity="0.42" transform="rotate(60 352.9 377.4)"/>
<ellipse cx="407.2" cy="368.6" rx="1.50" ry="1.12" fill="#40e868" opacity="0.50" transform="rotate(30 407.2 368.6)"/>
<ellipse cx="396.5" cy="369.9" rx="1.75" ry="1.38" fill="#40e868" opacity="0.48" transform="rotate(60 396.5 369.9)"/>
</g></g>
<rect x="423.30" y="344.20" width="79.70" height="65.30" fill="#0c1b0a" stroke="#060c06" stroke-width="0.8"/>
<g clip-path="url(#j2)">
<g filter="url(#b4)"><ellipse cx="497" cy="350" rx="16" ry="11" fill="#23471f" opacity="0.9"/><ellipse cx="460" cy="388" rx="32" ry="14" fill="#152f13" opacity="0.8"/><ellipse cx="430" cy="362" rx="7" ry="14" fill="#17381a" opacity="0.8"/><ellipse cx="455" cy="360" rx="20" ry="10" fill="#122a10" opacity="0.8"/></g>
<g filter="url(#b2)">
<ellipse cx="439" cy="351.2" rx="3.20" ry="2.40" fill="#2aa83c" opacity="0.50" transform="rotate(-30 439 351.2)"/>
<ellipse cx="452" cy="348.3" rx="2.60" ry="2.20" fill="#2aa83c" opacity="0.45" transform="rotate(0 452 348.3)"/>
<ellipse cx="460.1" cy="346.6" rx="3.20" ry="1.60" fill="#2aa83c" opacity="0.35" transform="rotate(-50 460.1 346.6)"/>
<ellipse cx="426" cy="354.7" rx="2.00" ry="8.00" fill="#2aa83c" opacity="0.38" transform="rotate(-10 426 354.7)"/>
<ellipse cx="447.7" cy="364.2" rx="4.40" ry="3.40" fill="#2aa83c" opacity="0.50" transform="rotate(0 447.7 364.2)"/>
<ellipse cx="466.7" cy="359.9" rx="3.00" ry="2.40" fill="#2aa83c" opacity="0.45" transform="rotate(0 466.7 359.9)"/>
<ellipse cx="427.8" cy="372" rx="3.00" ry="2.80" fill="#2aa83c" opacity="0.50" transform="rotate(0 427.8 372)"/>
<ellipse cx="437.3" cy="369.8" rx="3.40" ry="2.20" fill="#2aa83c" opacity="0.42" transform="rotate(-30 437.3 369.8)"/>
<ellipse cx="458.9" cy="371.5" rx="2.60" ry="2.20" fill="#2aa83c" opacity="0.38" transform="rotate(0 458.9 371.5)"/>
<ellipse cx="446" cy="376.3" rx="2.80" ry="2.20" fill="#2aa83c" opacity="0.35" transform="rotate(0 446 376.3)"/>
<ellipse cx="450.3" cy="379.8" rx="2.60" ry="3.20" fill="#2aa83c" opacity="0.35" transform="rotate(0 450.3 379.8)"/>
<ellipse cx="471" cy="379.8" rx="3.00" ry="2.80" fill="#2aa83c" opacity="0.50" transform="rotate(0 471 379.8)"/>
<ellipse cx="480.9" cy="367.7" rx="3.20" ry="2.60" fill="#2aa83c" opacity="0.23" transform="rotate(0 480.9 367.7)"/>
<ellipse cx="489.2" cy="385.3" rx="4.00" ry="3.40" fill="#2aa83c" opacity="0.50" transform="rotate(0 489.2 385.3)"/>
<ellipse cx="460.7" cy="386.4" rx="3.20" ry="3.00" fill="#2aa83c" opacity="0.42" transform="rotate(0 460.7 386.4)"/>
<ellipse cx="477.1" cy="387.6" rx="2.80" ry="2.40" fill="#2aa83c" opacity="0.23" transform="rotate(0 477.1 387.6)"/>
<ellipse cx="430.4" cy="397.1" rx="3.00" ry="2.20" fill="#2aa83c" opacity="0.40" transform="rotate(30 430.4 397.1)"/>
<ellipse cx="438.2" cy="404" rx="2.80" ry="2.40" fill="#2aa83c" opacity="0.40" transform="rotate(0 438.2 404)"/>
<ellipse cx="447.7" cy="399.7" rx="2.60" ry="2.60" fill="#2aa83c" opacity="0.35" transform="rotate(0 447.7 399.7)"/>
<ellipse cx="452" cy="405.4" rx="3.00" ry="2.40" fill="#2aa83c" opacity="0.42" transform="rotate(0 452 405.4)"/>
<ellipse cx="464.1" cy="402.6" rx="2.60" ry="2.40" fill="#2aa83c" opacity="0.23" transform="rotate(0 464.1 402.6)"/>
<ellipse cx="493.5" cy="401.4" rx="3.00" ry="2.60" fill="#2aa83c" opacity="0.40" transform="rotate(0 493.5 401.4)"/>
<ellipse cx="480.6" cy="404.9" rx="2.60" ry="2.20" fill="#2aa83c" opacity="0.30" transform="rotate(0 480.6 404.9)"/>
<ellipse cx="500.4" cy="374.6" rx="2.40" ry="2.40" fill="#2aa83c" opacity="0.20" transform="rotate(0 500.4 374.6)"/>
<ellipse cx="490.9" cy="364.2" rx="2.80" ry="2.40" fill="#2aa83c" opacity="0.17" transform="rotate(0 490.9 364.2)"/>
<ellipse cx="429" cy="350" rx="2.20" ry="3.20" fill="#2aa83c" opacity="0.30" transform="rotate(20 429 350)"/>
<ellipse cx="432" cy="361" rx="2.20" ry="2.20" fill="#2aa83c" opacity="0.25" transform="rotate(0 432 361)"/>
<ellipse cx="456" cy="357" rx="2.20" ry="2.20" fill="#2aa83c" opacity="0.23" transform="rotate(0 456 357)"/>
<ellipse cx="443" cy="391" rx="2.40" ry="2.40" fill="#2aa83c" opacity="0.20" transform="rotate(0 443 391)"/>
<ellipse cx="472" cy="396" rx="2.40" ry="2.40" fill="#2aa83c" opacity="0.20" transform="rotate(0 472 396)"/>
<ellipse cx="484" cy="377" rx="2.20" ry="2.20" fill="#2aa83c" opacity="0.23" transform="rotate(0 484 377)"/>
<ellipse cx="463" cy="366" rx="2.20" ry="2.20" fill="#2aa83c" opacity="0.20" transform="rotate(0 463 366)"/>
<ellipse cx="441" cy="358" rx="1.80" ry="1.80" fill="#2aa83c" opacity="0.25" transform="rotate(0 441 358)"/>
<ellipse cx="445" cy="347" rx="1.80" ry="1.80" fill="#2aa83c" opacity="0.25" transform="rotate(0 445 347)"/>
<ellipse cx="447.3" cy="356.7" rx="1.80" ry="1.20" fill="#2aa83c" opacity="0.17" transform="rotate(0 447.3 356.7)"/>
<ellipse cx="474.7" cy="383.6" rx="1.20" ry="1.40" fill="#2aa83c" opacity="0.28" transform="rotate(0 474.7 383.6)"/>
<ellipse cx="426.3" cy="362.4" rx="1.60" ry="1.20" fill="#2aa83c" opacity="0.15" transform="rotate(0 426.3 362.4)"/>
<ellipse cx="465.4" cy="405.4" rx="1.20" ry="1.40" fill="#2aa83c" opacity="0.20" transform="rotate(0 465.4 405.4)"/>
<ellipse cx="474.9" cy="388.2" rx="1.60" ry="1.40" fill="#2aa83c" opacity="0.13" transform="rotate(0 474.9 388.2)"/>
<ellipse cx="461.1" cy="367.8" rx="1.40" ry="1.20" fill="#2aa83c" opacity="0.23" transform="rotate(0 461.1 367.8)"/>
<ellipse cx="461.6" cy="390.6" rx="1.40" ry="2.00" fill="#2aa83c" opacity="0.14" transform="rotate(0 461.6 390.6)"/>
<ellipse cx="453.0" cy="348.7" rx="2.00" ry="1.80" fill="#2aa83c" opacity="0.15" transform="rotate(0 453.0 348.7)"/>
<ellipse cx="451.7" cy="387.8" rx="2.00" ry="1.80" fill="#2aa83c" opacity="0.20" transform="rotate(0 451.7 387.8)"/>
<ellipse cx="490.6" cy="380.9" rx="1.60" ry="1.60" fill="#2aa83c" opacity="0.23" transform="rotate(0 490.6 380.9)"/>
<ellipse cx="430.5" cy="351.5" rx="1.20" ry="1.40" fill="#2aa83c" opacity="0.20" transform="rotate(0 430.5 351.5)"/>
<ellipse cx="454.5" cy="390.8" rx="1.60" ry="1.60" fill="#2aa83c" opacity="0.27" transform="rotate(0 454.5 390.8)"/>
<ellipse cx="464.4" cy="377.4" rx="1.40" ry="1.20" fill="#2aa83c" opacity="0.13" transform="rotate(0 464.4 377.4)"/>
<ellipse cx="433.6" cy="393.6" rx="1.80" ry="1.60" fill="#2aa83c" opacity="0.28" transform="rotate(0 433.6 393.6)"/>
<ellipse cx="447.9" cy="387.4" rx="1.40" ry="1.40" fill="#2aa83c" opacity="0.28" transform="rotate(0 447.9 387.4)"/>
<ellipse cx="495.7" cy="376.4" rx="1.40" ry="1.60" fill="#2aa83c" opacity="0.17" transform="rotate(0 495.7 376.4)"/>
<ellipse cx="457.7" cy="395.2" rx="2.00" ry="2.00" fill="#2aa83c" opacity="0.19" transform="rotate(0 457.7 395.2)"/>
<ellipse cx="495.0" cy="358.8" rx="1.40" ry="1.40" fill="#2aa83c" opacity="0.28" transform="rotate(0 495.0 358.8)"/>
<ellipse cx="479.1" cy="404.0" rx="1.40" ry="1.40" fill="#2aa83c" opacity="0.20" transform="rotate(0 479.1 404.0)"/>
<ellipse cx="495.4" cy="396.7" rx="1.60" ry="1.60" fill="#2aa83c" opacity="0.24" transform="rotate(0 495.4 396.7)"/>
<ellipse cx="488.8" cy="405.9" rx="1.60" ry="1.20" fill="#2aa83c" opacity="0.13" transform="rotate(0 488.8 405.9)"/>
<ellipse cx="428.2" cy="389.2" rx="1.60" ry="1.40" fill="#2aa83c" opacity="0.27" transform="rotate(0 428.2 389.2)"/>
<ellipse cx="473.7" cy="370.7" rx="1.40" ry="1.80" fill="#2aa83c" opacity="0.17" transform="rotate(0 473.7 370.7)"/>
<ellipse cx="485.6" cy="406.0" rx="1.20" ry="1.20" fill="#2aa83c" opacity="0.22" transform="rotate(0 485.6 406.0)"/>
<ellipse cx="486.4" cy="404.5" rx="1.80" ry="1.40" fill="#2aa83c" opacity="0.21" transform="rotate(0 486.4 404.5)"/>
<ellipse cx="479.3" cy="392.1" rx="1.60" ry="1.20" fill="#2aa83c" opacity="0.17" transform="rotate(0 479.3 392.1)"/>
<ellipse cx="466.0" cy="403.8" rx="1.60" ry="2.00" fill="#2aa83c" opacity="0.15" transform="rotate(0 466.0 403.8)"/>
<ellipse cx="493.9" cy="351.3" rx="2.00" ry="1.80" fill="#2aa83c" opacity="0.15" transform="rotate(0 493.9 351.3)"/>
<ellipse cx="440.0" cy="400.1" rx="1.20" ry="1.60" fill="#2aa83c" opacity="0.24" transform="rotate(0 440.0 400.1)"/>
<ellipse cx="485.6" cy="403.6" rx="1.60" ry="1.80" fill="#2aa83c" opacity="0.16" transform="rotate(0 485.6 403.6)"/>
<ellipse cx="490.8" cy="394.7" rx="2.00" ry="1.20" fill="#2aa83c" opacity="0.17" transform="rotate(0 490.8 394.7)"/>
<ellipse cx="499.5" cy="405.6" rx="1.60" ry="1.80" fill="#2aa83c" opacity="0.18" transform="rotate(0 499.5 405.6)"/>
<ellipse cx="490.0" cy="367.3" rx="1.20" ry="1.60" fill="#2aa83c" opacity="0.22" transform="rotate(0 490.0 367.3)"/>
<ellipse cx="462.0" cy="347.7" rx="1.80" ry="1.20" fill="#2aa83c" opacity="0.27" transform="rotate(0 462.0 347.7)"/>
</g><g filter="url(#b3)">
<ellipse cx="439" cy="351.2" rx="1.68" ry="1.26" fill="#c4e83a" opacity="1" transform="rotate(-30 439 351.2)"/>
<ellipse cx="452" cy="348.3" rx="1.37" ry="1.16" fill="#9be04a" opacity="0.9" transform="rotate(0 452 348.3)"/>
<ellipse cx="460.1" cy="346.6" rx="1.68" ry="0.84" fill="#46e660" opacity="0.7" transform="rotate(-50 460.1 346.6)"/>
<ellipse cx="426" cy="354.7" rx="1.05" ry="4.20" fill="#46e660" opacity="0.75" transform="rotate(-10 426 354.7)"/>
<ellipse cx="447.7" cy="364.2" rx="2.31" ry="1.78" fill="#46e660" opacity="1" transform="rotate(0 447.7 364.2)"/>
<ellipse cx="466.7" cy="359.9" rx="1.58" ry="1.26" fill="#46e660" opacity="0.9" transform="rotate(0 466.7 359.9)"/>
<ellipse cx="427.8" cy="372" rx="1.58" ry="1.47" fill="#c4e83a" opacity="1" transform="rotate(0 427.8 372)"/>
<ellipse cx="437.3" cy="369.8" rx="1.78" ry="1.16" fill="#9be04a" opacity="0.85" transform="rotate(-30 437.3 369.8)"/>
<ellipse cx="458.9" cy="371.5" rx="1.37" ry="1.16" fill="#46e660" opacity="0.75" transform="rotate(0 458.9 371.5)"/>
<ellipse cx="446" cy="376.3" rx="1.47" ry="1.16" fill="#46e660" opacity="0.7" transform="rotate(0 446 376.3)"/>
<ellipse cx="450.3" cy="379.8" rx="1.37" ry="1.68" fill="#46e660" opacity="0.7" transform="rotate(0 450.3 379.8)"/>
<ellipse cx="471" cy="379.8" rx="1.58" ry="1.47" fill="#c4e83a" opacity="1" transform="rotate(0 471 379.8)"/>
<ellipse cx="480.9" cy="367.7" rx="1.68" ry="1.37" fill="#46e660" opacity="0.45" transform="rotate(0 480.9 367.7)"/>
<ellipse cx="489.2" cy="385.3" rx="2.10" ry="1.78" fill="#d4ea3a" opacity="1" transform="rotate(0 489.2 385.3)"/>
<ellipse cx="460.7" cy="386.4" rx="1.68" ry="1.58" fill="#c4e83a" opacity="0.85" transform="rotate(0 460.7 386.4)"/>
<ellipse cx="477.1" cy="387.6" rx="1.47" ry="1.26" fill="#46e660" opacity="0.45" transform="rotate(0 477.1 387.6)"/>
<ellipse cx="430.4" cy="397.1" rx="1.58" ry="1.16" fill="#46e660" opacity="0.8" transform="rotate(30 430.4 397.1)"/>
<ellipse cx="438.2" cy="404" rx="1.47" ry="1.26" fill="#46e660" opacity="0.8" transform="rotate(0 438.2 404)"/>
<ellipse cx="447.7" cy="399.7" rx="1.37" ry="1.37" fill="#46e660" opacity="0.7" transform="rotate(0 447.7 399.7)"/>
<ellipse cx="452" cy="405.4" rx="1.58" ry="1.26" fill="#9be04a" opacity="0.85" transform="rotate(0 452 405.4)"/>
<ellipse cx="464.1" cy="402.6" rx="1.37" ry="1.26" fill="#46e660" opacity="0.45" transform="rotate(0 464.1 402.6)"/>
<ellipse cx="493.5" cy="401.4" rx="1.58" ry="1.37" fill="#46e660" opacity="0.8" transform="rotate(0 493.5 401.4)"/>
<ellipse cx="480.6" cy="404.9" rx="1.37" ry="1.16" fill="#46e660" opacity="0.6" transform="rotate(0 480.6 404.9)"/>
<ellipse cx="500.4" cy="374.6" rx="1.26" ry="1.26" fill="#46e660" opacity="0.4" transform="rotate(0 500.4 374.6)"/>
<ellipse cx="490.9" cy="364.2" rx="1.47" ry="1.26" fill="#46e660" opacity="0.35" transform="rotate(0 490.9 364.2)"/>
<ellipse cx="429" cy="350" rx="1.16" ry="1.68" fill="#46e660" opacity="0.6" transform="rotate(20 429 350)"/>
<ellipse cx="432" cy="361" rx="1.16" ry="1.16" fill="#46e660" opacity="0.5" transform="rotate(0 432 361)"/>
<ellipse cx="456" cy="357" rx="1.16" ry="1.16" fill="#46e660" opacity="0.45" transform="rotate(0 456 357)"/>
<ellipse cx="443" cy="391" rx="1.26" ry="1.26" fill="#46e660" opacity="0.4" transform="rotate(0 443 391)"/>
<ellipse cx="472" cy="396" rx="1.26" ry="1.26" fill="#46e660" opacity="0.4" transform="rotate(0 472 396)"/>
<ellipse cx="484" cy="377" rx="1.16" ry="1.16" fill="#46e660" opacity="0.45" transform="rotate(0 484 377)"/>
<ellipse cx="463" cy="366" rx="1.16" ry="1.16" fill="#46e660" opacity="0.4" transform="rotate(0 463 366)"/>
<ellipse cx="441" cy="358" rx="0.95" ry="0.95" fill="#46e660" opacity="0.5" transform="rotate(0 441 358)"/>
<ellipse cx="445" cy="347" rx="0.95" ry="0.95" fill="#46e660" opacity="0.5" transform="rotate(0 445 347)"/>
<ellipse cx="447.3" cy="356.7" rx="0.95" ry="0.63" fill="#9be04a" opacity="0.33" transform="rotate(0 447.3 356.7)"/>
<ellipse cx="474.7" cy="383.6" rx="0.63" ry="0.73" fill="#9be04a" opacity="0.57" transform="rotate(0 474.7 383.6)"/>
<ellipse cx="426.3" cy="362.4" rx="0.84" ry="0.63" fill="#46e660" opacity="0.31" transform="rotate(0 426.3 362.4)"/>
<ellipse cx="465.4" cy="405.4" rx="0.63" ry="0.73" fill="#46e660" opacity="0.41" transform="rotate(0 465.4 405.4)"/>
<ellipse cx="474.9" cy="388.2" rx="0.84" ry="0.73" fill="#46e660" opacity="0.26" transform="rotate(0 474.9 388.2)"/>
<ellipse cx="461.1" cy="367.8" rx="0.73" ry="0.63" fill="#46e660" opacity="0.46" transform="rotate(0 461.1 367.8)"/>
<ellipse cx="461.6" cy="390.6" rx="0.73" ry="1.05" fill="#9be04a" opacity="0.28" transform="rotate(0 461.6 390.6)"/>
<ellipse cx="453.0" cy="348.7" rx="1.05" ry="0.95" fill="#46e660" opacity="0.3" transform="rotate(0 453.0 348.7)"/>
<ellipse cx="451.7" cy="387.8" rx="1.05" ry="0.95" fill="#46e660" opacity="0.4" transform="rotate(0 451.7 387.8)"/>
<ellipse cx="490.6" cy="380.9" rx="0.84" ry="0.84" fill="#9be04a" opacity="0.45" transform="rotate(0 490.6 380.9)"/>
<ellipse cx="430.5" cy="351.5" rx="0.63" ry="0.73" fill="#46e660" opacity="0.4" transform="rotate(0 430.5 351.5)"/>
<ellipse cx="454.5" cy="390.8" rx="0.84" ry="0.84" fill="#46e660" opacity="0.54" transform="rotate(0 454.5 390.8)"/>
<ellipse cx="464.4" cy="377.4" rx="0.73" ry="0.63" fill="#9be04a" opacity="0.26" transform="rotate(0 464.4 377.4)"/>
<ellipse cx="433.6" cy="393.6" rx="0.95" ry="0.84" fill="#46e660" opacity="0.56" transform="rotate(0 433.6 393.6)"/>
<ellipse cx="447.9" cy="387.4" rx="0.73" ry="0.73" fill="#9be04a" opacity="0.57" transform="rotate(0 447.9 387.4)"/>
<ellipse cx="495.7" cy="376.4" rx="0.73" ry="0.84" fill="#9be04a" opacity="0.34" transform="rotate(0 495.7 376.4)"/>
<ellipse cx="457.7" cy="395.2" rx="1.05" ry="1.05" fill="#9be04a" opacity="0.38" transform="rotate(0 457.7 395.2)"/>
<ellipse cx="495.0" cy="358.8" rx="0.73" ry="0.73" fill="#46e660" opacity="0.56" transform="rotate(0 495.0 358.8)"/>
<ellipse cx="479.1" cy="404.0" rx="0.73" ry="0.73" fill="#46e660" opacity="0.41" transform="rotate(0 479.1 404.0)"/>
<ellipse cx="495.4" cy="396.7" rx="0.84" ry="0.84" fill="#9be04a" opacity="0.49" transform="rotate(0 495.4 396.7)"/>
<ellipse cx="488.8" cy="405.9" rx="0.84" ry="0.63" fill="#9be04a" opacity="0.26" transform="rotate(0 488.8 405.9)"/>
<ellipse cx="428.2" cy="389.2" rx="0.84" ry="0.73" fill="#46e660" opacity="0.53" transform="rotate(0 428.2 389.2)"/>
<ellipse cx="473.7" cy="370.7" rx="0.73" ry="0.95" fill="#46e660" opacity="0.34" transform="rotate(0 473.7 370.7)"/>
<ellipse cx="485.6" cy="406.0" rx="0.63" ry="0.63" fill="#9be04a" opacity="0.44" transform="rotate(0 485.6 406.0)"/>
<ellipse cx="486.4" cy="404.5" rx="0.95" ry="0.73" fill="#46e660" opacity="0.42" transform="rotate(0 486.4 404.5)"/>
<ellipse cx="479.3" cy="392.1" rx="0.84" ry="0.63" fill="#46e660" opacity="0.33" transform="rotate(0 479.3 392.1)"/>
<ellipse cx="466.0" cy="403.8" rx="0.84" ry="1.05" fill="#9be04a" opacity="0.31" transform="rotate(0 466.0 403.8)"/>
<ellipse cx="493.9" cy="351.3" rx="1.05" ry="0.95" fill="#46e660" opacity="0.3" transform="rotate(0 493.9 351.3)"/>
<ellipse cx="440.0" cy="400.1" rx="0.63" ry="0.84" fill="#9be04a" opacity="0.48" transform="rotate(0 440.0 400.1)"/>
<ellipse cx="485.6" cy="403.6" rx="0.84" ry="0.95" fill="#9be04a" opacity="0.32" transform="rotate(0 485.6 403.6)"/>
<ellipse cx="490.8" cy="394.7" rx="1.05" ry="0.63" fill="#46e660" opacity="0.33" transform="rotate(0 490.8 394.7)"/>
<ellipse cx="499.5" cy="405.6" rx="0.84" ry="0.95" fill="#9be04a" opacity="0.36" transform="rotate(0 499.5 405.6)"/>
<ellipse cx="490.0" cy="367.3" rx="0.63" ry="0.84" fill="#46e660" opacity="0.44" transform="rotate(0 490.0 367.3)"/>
<ellipse cx="462.0" cy="347.7" rx="0.95" ry="0.63" fill="#46e660" opacity="0.53" transform="rotate(0 462.0 347.7)"/>
</g></g>
<text transform="translate(486.20,401.60) scale(0.98,1)" font-size="7.7" text-anchor="middle" fill="#ffffff" font-weight="bold" >100µm</text>
<line x1="472.00" y1="404.90" x2="499.60" y2="404.90" stroke="#d8d8d8" stroke-width="1.3" />
<text transform="translate(13.50,525.50) scale(1.0,1)" font-size="11.2" text-anchor="start" fill="#000" font-weight="bold" >K</text>
<line x1="75.50" y1="526.30" x2="75.50" y2="604.70" stroke="#262626" stroke-width="1.0" />
<line x1="72.50" y1="538.80" x2="75.50" y2="538.80" stroke="#262626" stroke-width="1.0" />
<text transform="translate(69.50,541.75) " font-size="8.2" text-anchor="end" fill="#333333" font-weight="normal" >0.10</text>
<line x1="72.50" y1="571.70" x2="75.50" y2="571.70" stroke="#262626" stroke-width="1.0" />
<text transform="translate(69.50,574.65) " font-size="8.2" text-anchor="end" fill="#333333" font-weight="normal" >0.05</text>
<line x1="72.50" y1="604.20" x2="75.50" y2="604.20" stroke="#262626" stroke-width="1.0" />
<text transform="translate(69.50,607.15) " font-size="8.2" text-anchor="end" fill="#333333" font-weight="normal" >0.00</text>
<line x1="75.10" y1="604.20" x2="153.00" y2="604.20" stroke="#262626" stroke-width="1.0" />
<rect x="77.20" y="548.80" width="5.90" height="55.40" fill="#c5203e" />
<line x1="80.15" y1="549.30" x2="80.15" y2="547.10" stroke="#444444" stroke-width="0.9" />
<line x1="78.35" y1="547.10" x2="81.95" y2="547.10" stroke="#444444" stroke-width="0.9" />
<rect x="84.80" y="543.70" width="5.90" height="60.50" fill="#114d86" />
<line x1="87.75" y1="544.20" x2="87.75" y2="540.90" stroke="#444444" stroke-width="0.9" />
<line x1="85.95" y1="540.90" x2="89.55" y2="540.90" stroke="#444444" stroke-width="0.9" />
<line x1="83.95" y1="604.20" x2="83.95" y2="607.20" stroke="#262626" stroke-width="1.0" />
<text transform="translate(88.65,614.30) rotate(-45) scale(1.02,1)" font-size="8.2" text-anchor="end" fill="#333333" font-weight="normal" >Pyruvate</text>
<path d="M80.40,537.70 V534.70 H89.10 V537.70" stroke="#262626" stroke-width="0.9" fill="none" />
<text transform="translate(84.75,532.50) " font-size="7.3" text-anchor="middle" fill="#333333" font-weight="normal" >ns</text>
<rect x="96.90" y="547.10" width="5.90" height="57.10" fill="#c5203e" />
<line x1="99.85" y1="547.60" x2="99.85" y2="542.60" stroke="#444444" stroke-width="0.9" />
<line x1="98.05" y1="542.60" x2="101.65" y2="542.60" stroke="#444444" stroke-width="0.9" />
<rect x="104.50" y="545.40" width="5.90" height="58.80" fill="#114d86" />
<line x1="107.45" y1="545.90" x2="107.45" y2="543.70" stroke="#444444" stroke-width="0.9" />
<line x1="105.65" y1="543.70" x2="109.25" y2="543.70" stroke="#444444" stroke-width="0.9" />
<line x1="103.65" y1="604.20" x2="103.65" y2="607.20" stroke="#262626" stroke-width="1.0" />
<text transform="translate(108.35,614.30) rotate(-45) scale(1.02,1)" font-size="8.2" text-anchor="end" fill="#333333" font-weight="normal" >Lactate</text>
<path d="M100.10,539.60 V536.60 H108.80 V539.60" stroke="#262626" stroke-width="0.9" fill="none" />
<text transform="translate(104.45,534.40) " font-size="7.3" text-anchor="middle" fill="#333333" font-weight="normal" >ns</text>
<rect x="116.60" y="561.70" width="5.90" height="42.50" fill="#c5203e" />
<line x1="119.55" y1="562.20" x2="119.55" y2="554.40" stroke="#444444" stroke-width="0.9" />
<line x1="117.75" y1="554.40" x2="121.35" y2="554.40" stroke="#444444" stroke-width="0.9" />
<rect x="124.20" y="561.70" width="5.90" height="42.50" fill="#114d86" />
<line x1="127.15" y1="562.20" x2="127.15" y2="546.40" stroke="#444444" stroke-width="0.9" />
<line x1="125.35" y1="546.40" x2="128.95" y2="546.40" stroke="#444444" stroke-width="0.9" />
<line x1="123.35" y1="604.20" x2="123.35" y2="607.20" stroke="#262626" stroke-width="1.0" />
<text transform="translate(128.05,614.30) rotate(-45) scale(1.02,1)" font-size="8.2" text-anchor="end" fill="#333333" font-weight="normal" >Succinate</text>
<path d="M119.80,542.90 V539.90 H128.50 V542.90" stroke="#262626" stroke-width="0.9" fill="none" />
<text transform="translate(124.15,537.70) " font-size="7.3" text-anchor="middle" fill="#333333" font-weight="normal" >ns</text>
<rect x="136.20" y="548.80" width="5.90" height="55.40" fill="#c5203e" />
<line x1="139.15" y1="549.30" x2="139.15" y2="547.80" stroke="#444444" stroke-width="0.9" />
<line x1="137.35" y1="547.80" x2="140.95" y2="547.80" stroke="#444444" stroke-width="0.9" />
<rect x="143.80" y="551.30" width="5.90" height="52.90" fill="#114d86" />
<line x1="146.75" y1="551.80" x2="146.75" y2="549.50" stroke="#444444" stroke-width="0.9" />
<line x1="144.95" y1="549.50" x2="148.55" y2="549.50" stroke="#444444" stroke-width="0.9" />
<line x1="142.95" y1="604.20" x2="142.95" y2="607.20" stroke="#262626" stroke-width="1.0" />
<text transform="translate(147.65,614.30) rotate(-45) scale(1.02,1)" font-size="8.2" text-anchor="end" fill="#333333" font-weight="normal" >Fumarate</text>
<path d="M139.40,542.90 V539.90 H148.10 V542.90" stroke="#262626" stroke-width="0.9" fill="none" />
<text transform="translate(143.75,537.70) " font-size="7.3" text-anchor="middle" fill="#333333" font-weight="normal" >ns</text>
<text transform="translate(36.00,565.50) rotate(-90) scale(0.82,1)" font-size="9" text-anchor="middle" fill="#333333" font-weight="normal" >Fractional enrichment</text>
<text transform="translate(46.80,565.50) rotate(-90) scale(0.82,1)" font-size="9" text-anchor="middle" fill="#333333" font-weight="normal" >normalized to total count</text>
<rect x="79.20" y="519.40" width="8.40" height="3.80" fill="#c5203e" />
<text transform="translate(91.10,523.60) " font-size="7.8" text-anchor="start" fill="#333333" font-weight="normal" >Control</text>
<rect x="121.40" y="519.40" width="8.40" height="3.80" fill="#114d86" />
<text transform="translate(133.10,523.60) " font-size="7.8" text-anchor="start" fill="#333333" font-weight="normal" >KO1</text>
<text transform="translate(190.50,520.70) scale(0.85,1)" font-size="11.2" text-anchor="start" fill="#000" font-weight="bold" >L</text>
<rect x="246.80" y="532.90" width="15.60" height="78.90" fill="#e98f84" stroke="#c5203e" stroke-width="0.9"/>
<line x1="221.90" y1="530.80" x2="221.90" y2="608.10" stroke="#262626" stroke-width="1.0" />
<line x1="218.90" y1="537.10" x2="221.90" y2="537.10" stroke="#262626" stroke-width="1.0" />
<text transform="translate(217.40,539.90) " font-size="7.8" text-anchor="end" fill="#333333" font-weight="normal" >100</text>
<line x1="218.90" y1="572.40" x2="221.90" y2="572.40" stroke="#262626" stroke-width="1.0" />
<text transform="translate(217.40,575.20) " font-size="7.8" text-anchor="end" fill="#333333" font-weight="normal" >50</text>
<line x1="218.90" y1="607.70" x2="221.90" y2="607.70" stroke="#262626" stroke-width="1.0" />
<text transform="translate(217.40,610.50) " font-size="7.8" text-anchor="end" fill="#333333" font-weight="normal" >0</text>
<line x1="221.50" y1="607.70" x2="337.90" y2="607.70" stroke="#262626" stroke-width="1.0" />
<line x1="221.90" y1="607.70" x2="221.90" y2="610.70" stroke="#262626" stroke-width="1.0" />
<text transform="translate(221.90,619.90) " font-size="7.8" text-anchor="middle" fill="#333333" font-weight="normal" >0</text>
<line x1="245.10" y1="607.70" x2="245.10" y2="610.70" stroke="#262626" stroke-width="1.0" />
<text transform="translate(245.10,619.90) " font-size="7.8" text-anchor="middle" fill="#333333" font-weight="normal" >20</text>
<line x1="268.30" y1="607.70" x2="268.30" y2="610.70" stroke="#262626" stroke-width="1.0" />
<text transform="translate(268.30,619.90) " font-size="7.8" text-anchor="middle" fill="#333333" font-weight="normal" >40</text>
<line x1="291.50" y1="607.70" x2="291.50" y2="610.70" stroke="#262626" stroke-width="1.0" />
<text transform="translate(291.50,619.90) " font-size="7.8" text-anchor="middle" fill="#333333" font-weight="normal" >60</text>
<line x1="314.70" y1="607.70" x2="314.70" y2="610.70" stroke="#262626" stroke-width="1.0" />
<text transform="translate(314.70,619.90) " font-size="7.8" text-anchor="middle" fill="#333333" font-weight="normal" >80</text>
<line x1="337.90" y1="607.70" x2="337.90" y2="610.70" stroke="#262626" stroke-width="1.0" />
<text transform="translate(337.90,619.90) " font-size="7.8" text-anchor="middle" fill="#333333" font-weight="normal" >100</text>
<text transform="translate(197.30,568.90) rotate(-90) scale(0.82,1)" font-size="9" text-anchor="middle" fill="#333333" font-weight="normal" >Percent survival</text>
<path d="M221.9,537 H249.3 V545.5 H251.4 V554 H253 V563.3 H254.3 V580.6 H262.5 V590.2 H265.8 V607.7" stroke="#cf1832" stroke-width="1.4" fill="none" />
<path d="M252.5,537 H258.2 V544.4 H262.5 V551.5 H265 V568.8 H268 V576.2 H279.5 V584 H326.3" stroke="#1a5a98" stroke-width="1.2" fill="none" stroke-dasharray="1.1 1.4"/>
<path d="M252.5,536.6 H261.2 V546 H267.5 V554.5 H274.2 V563 H276.2 V572 H283 V581.2 H326.3" stroke="#35b548" stroke-width="1.5" fill="none" stroke-dasharray="3 1 0.8 1"/>
<line x1="326.50" y1="579.90" x2="326.50" y2="582.20" stroke="#333" stroke-width="0.8" />
<line x1="326.50" y1="582.60" x2="326.50" y2="584.80" stroke="#333" stroke-width="0.8" />
<rect x="248.80" y="544.40" width="1.00" height="2.00" fill="#333" />
<rect x="250.90" y="552.90" width="1.00" height="2.00" fill="#333" />
<rect x="252.50" y="562.20" width="1.00" height="2.00" fill="#333" />
<rect x="253.80" y="579.50" width="1.00" height="2.00" fill="#333" />
<rect x="257.70" y="543.30" width="1.00" height="2.00" fill="#333" />
<rect x="262.00" y="550.40" width="1.00" height="2.00" fill="#333" />
<rect x="264.50" y="567.70" width="1.00" height="2.00" fill="#333" />
<rect x="267.50" y="575.10" width="1.00" height="2.00" fill="#333" />
<rect x="260.70" y="544.90" width="1.00" height="2.00" fill="#333" />
<rect x="267.00" y="553.40" width="1.00" height="2.00" fill="#333" />
<rect x="273.70" y="561.90" width="1.00" height="2.00" fill="#333" />
<rect x="275.70" y="570.90" width="1.00" height="2.00" fill="#333" />
<rect x="282.50" y="580.10" width="1.00" height="2.00" fill="#333" />
<rect x="279.00" y="582.90" width="1.00" height="2.00" fill="#333" />
<text transform="translate(308.60,581.00) " font-size="8.3" text-anchor="middle" fill="#333333" font-weight="normal" >***</text>
<text transform="translate(308.60,591.70) " font-size="8.3" text-anchor="middle" fill="#333333" font-weight="normal" >***</text>
<path d="M247.9,622.2 V625 H261.7 V622.2" stroke="#262626" stroke-width="0.7" fill="none" />
<text transform="translate(254.80,634.30) scale(0.76,1)" font-size="9.6" text-anchor="middle" fill="#333333" font-weight="normal" >Doxy</text>
<text transform="translate(280.00,632.60) scale(0.76,1)" font-size="9.6" text-anchor="middle" fill="#333333" font-weight="normal" >Days</text>
<line x1="303.75" y1="539.50" x2="313.75" y2="539.50" stroke="#cf1832" stroke-width="1.3" />
<rect x="308.00" y="538.60" width="1.40" height="1.80" fill="#333" />
<line x1="303.75" y1="548.25" x2="313.75" y2="548.25" stroke="#1a5a98" stroke-width="1.2" stroke-dasharray="1.1 1.4"/>
<rect x="308.00" y="547.30" width="1.40" height="1.80" fill="#333" />
<line x1="303.75" y1="556.75" x2="313.75" y2="556.75" stroke="#35b548" stroke-width="1.4" stroke-dasharray="3 1 0.8 1"/>
<rect x="308.00" y="555.80" width="1.40" height="1.80" fill="#333" />
<text transform="translate(317.00,542.00) " font-size="7.6" text-anchor="start" fill="#333333" font-weight="normal" >Control (n = 8)</text>
<text transform="translate(317.00,550.80) " font-size="7.6" text-anchor="start" fill="#333333" font-weight="normal" >KD1 (n = 9)</text>
<text transform="translate(317.00,559.30) " font-size="7.6" text-anchor="start" fill="#333333" font-weight="normal" >KD2 (n = 8)</text>
<path d="M0,0H520V647H0Z M1.1,1.1V645.85H518.85V1.1Z" fill="#0f0a0b" fill-rule="evenodd"/>
</svg></body></html>
